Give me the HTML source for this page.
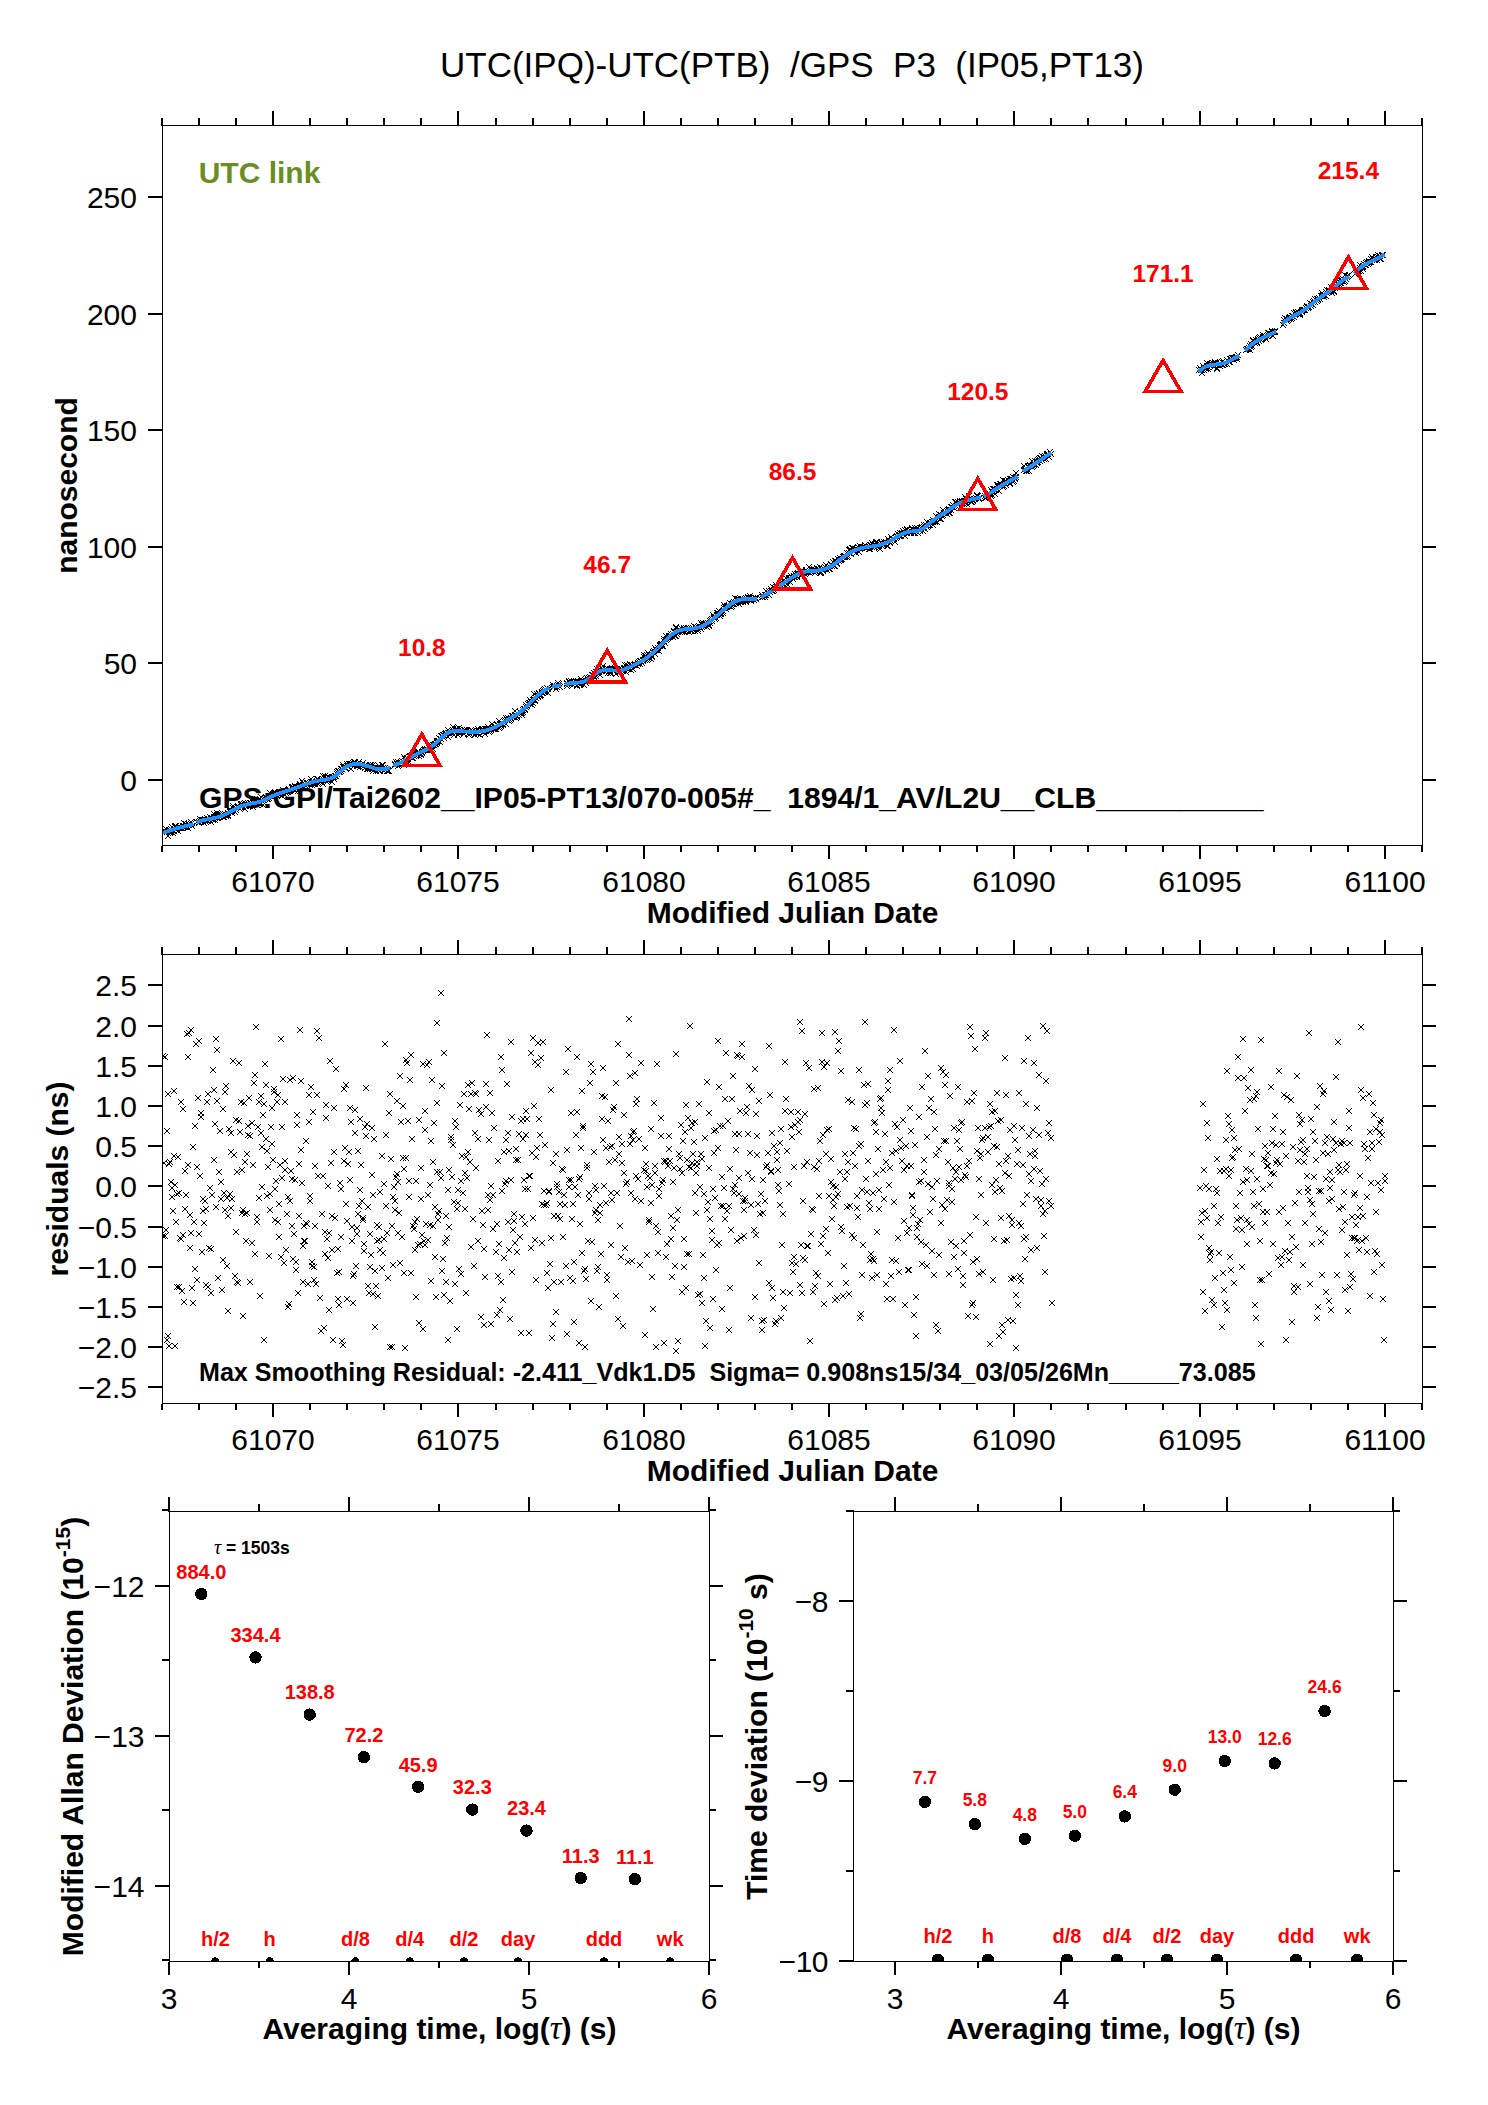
<!DOCTYPE html>
<html lang="en"><head><meta charset="utf-8"><title>UTC(IPQ)-UTC(PTB) /GPS P3 (IP05,PT13)</title>
<style>html,body{margin:0;padding:0;background:#fff;width:1488px;height:2105px;overflow:hidden}svg{display:block}text{font-family:"Liberation Sans", "DejaVu Sans", sans-serif}</style></head>
<body><svg width="1488" height="2105" viewBox="0 0 1488 2105">
<rect width="1488" height="2105" fill="#fff"/>
<defs><path id="x" d="M0 0h1v1h1v1h1v1h1v1h1v1h1v1h-1v-1h-1v-1h-1v-1h-1v-1h-1v-1h-1zM6 0v1h-1v1h-1v1h-1v1h-1v1h-1v1h-1v-1h1v-1h1v-1h1v-1h1v-1h1v-1z"/></defs>
<text x="792" y="77.3" font-size="35" text-anchor="middle" fill="#000">UTC(IPQ)-UTC(PTB)&#160; /GPS&#160; P3&#160; (IP05,PT13)</text>
<clipPath id="k125"><rect x="162.5" y="125.5" width="1260" height="720"/></clipPath><g fill="#000" shape-rendering="crispEdges" clip-path="url(#k125)"><use href="#x" x="161" y="827"/><use href="#x" x="162" y="828"/><use href="#x" x="162" y="829"/><use href="#x" x="163" y="826"/><use href="#x" x="164" y="829"/><use href="#x" x="165" y="833"/><use href="#x" x="164" y="827"/><use href="#x" x="166" y="827"/><use href="#x" x="166" y="829"/><use href="#x" x="167" y="829"/><use href="#x" x="167" y="830"/><use href="#x" x="168" y="829"/><use href="#x" x="169" y="827"/><use href="#x" x="169" y="824"/><use href="#x" x="170" y="830"/><use href="#x" x="171" y="828"/><use href="#x" x="172" y="824"/><use href="#x" x="172" y="823"/><use href="#x" x="173" y="827"/><use href="#x" x="173" y="823"/><use href="#x" x="174" y="826"/><use href="#x" x="175" y="828"/><use href="#x" x="175" y="825"/><use href="#x" x="176" y="825"/><use href="#x" x="177" y="825"/><use href="#x" x="178" y="825"/><use href="#x" x="179" y="825"/><use href="#x" x="180" y="824"/><use href="#x" x="180" y="823"/><use href="#x" x="181" y="823"/><use href="#x" x="181" y="820"/><use href="#x" x="182" y="824"/><use href="#x" x="183" y="824"/><use href="#x" x="183" y="821"/><use href="#x" x="184" y="823"/><use href="#x" x="185" y="821"/><use href="#x" x="185" y="825"/><use href="#x" x="186" y="821"/><use href="#x" x="186" y="822"/><use href="#x" x="188" y="819"/><use href="#x" x="188" y="821"/><use href="#x" x="189" y="820"/><use href="#x" x="189" y="823"/><use href="#x" x="194" y="819"/><use href="#x" x="196" y="820"/><use href="#x" x="196" y="819"/><use href="#x" x="197" y="818"/><use href="#x" x="197" y="816"/><use href="#x" x="198" y="817"/><use href="#x" x="199" y="817"/><use href="#x" x="200" y="817"/><use href="#x" x="200" y="818"/><use href="#x" x="201" y="820"/><use href="#x" x="202" y="817"/><use href="#x" x="203" y="817"/><use href="#x" x="203" y="819"/><use href="#x" x="204" y="815"/><use href="#x" x="205" y="818"/><use href="#x" x="205" y="816"/><use href="#x" x="206" y="816"/><use href="#x" x="207" y="814"/><use href="#x" x="208" y="815"/><use href="#x" x="208" y="819"/><use href="#x" x="209" y="815"/><use href="#x" x="210" y="816"/><use href="#x" x="210" y="817"/><use href="#x" x="211" y="814"/><use href="#x" x="211" y="811"/><use href="#x" x="212" y="817"/><use href="#x" x="212" y="815"/><use href="#x" x="214" y="812"/><use href="#x" x="214" y="815"/><use href="#x" x="214" y="810"/><use href="#x" x="215" y="815"/><use href="#x" x="216" y="812"/><use href="#x" x="217" y="814"/><use href="#x" x="217" y="811"/><use href="#x" x="218" y="812"/><use href="#x" x="218" y="813"/><use href="#x" x="219" y="813"/><use href="#x" x="220" y="811"/><use href="#x" x="220" y="814"/><use href="#x" x="221" y="812"/><use href="#x" x="221" y="814"/><use href="#x" x="223" y="812"/><use href="#x" x="223" y="813"/><use href="#x" x="225" y="812"/><use href="#x" x="225" y="813"/><use href="#x" x="225" y="810"/><use href="#x" x="226" y="807"/><use href="#x" x="227" y="809"/><use href="#x" x="227" y="807"/><use href="#x" x="228" y="809"/><use href="#x" x="229" y="808"/><use href="#x" x="229" y="810"/><use href="#x" x="230" y="805"/><use href="#x" x="230" y="803"/><use href="#x" x="231" y="808"/><use href="#x" x="232" y="806"/><use href="#x" x="232" y="809"/><use href="#x" x="233" y="807"/><use href="#x" x="234" y="804"/><use href="#x" x="235" y="803"/><use href="#x" x="235" y="804"/><use href="#x" x="237" y="806"/><use href="#x" x="238" y="804"/><use href="#x" x="238" y="802"/><use href="#x" x="238" y="801"/><use href="#x" x="239" y="801"/><use href="#x" x="241" y="801"/><use href="#x" x="241" y="805"/><use href="#x" x="242" y="806"/><use href="#x" x="242" y="800"/><use href="#x" x="243" y="801"/><use href="#x" x="243" y="803"/><use href="#x" x="245" y="803"/><use href="#x" x="245" y="800"/><use href="#x" x="246" y="801"/><use href="#x" x="247" y="803"/><use href="#x" x="248" y="802"/><use href="#x" x="248" y="800"/><use href="#x" x="249" y="798"/><use href="#x" x="249" y="796"/><use href="#x" x="250" y="804"/><use href="#x" x="251" y="800"/><use href="#x" x="252" y="799"/><use href="#x" x="252" y="798"/><use href="#x" x="253" y="799"/><use href="#x" x="253" y="800"/><use href="#x" x="254" y="799"/><use href="#x" x="254" y="802"/><use href="#x" x="255" y="798"/><use href="#x" x="256" y="801"/><use href="#x" x="257" y="800"/><use href="#x" x="257" y="801"/><use href="#x" x="257" y="796"/><use href="#x" x="258" y="794"/><use href="#x" x="260" y="802"/><use href="#x" x="260" y="799"/><use href="#x" x="260" y="796"/><use href="#x" x="261" y="797"/><use href="#x" x="262" y="796"/><use href="#x" x="263" y="794"/><use href="#x" x="263" y="795"/><use href="#x" x="264" y="796"/><use href="#x" x="265" y="796"/><use href="#x" x="266" y="795"/><use href="#x" x="266" y="793"/><use href="#x" x="267" y="793"/><use href="#x" x="267" y="790"/><use href="#x" x="268" y="791"/><use href="#x" x="269" y="792"/><use href="#x" x="269" y="794"/><use href="#x" x="270" y="791"/><use href="#x" x="271" y="790"/><use href="#x" x="271" y="793"/><use href="#x" x="272" y="789"/><use href="#x" x="272" y="793"/><use href="#x" x="274" y="792"/><use href="#x" x="274" y="793"/><use href="#x" x="275" y="790"/><use href="#x" x="275" y="791"/><use href="#x" x="276" y="789"/><use href="#x" x="277" y="791"/><use href="#x" x="277" y="789"/><use href="#x" x="278" y="791"/><use href="#x" x="279" y="793"/><use href="#x" x="280" y="787"/><use href="#x" x="281" y="788"/><use href="#x" x="281" y="791"/><use href="#x" x="282" y="792"/><use href="#x" x="283" y="790"/><use href="#x" x="284" y="789"/><use href="#x" x="285" y="789"/><use href="#x" x="285" y="787"/><use href="#x" x="286" y="788"/><use href="#x" x="286" y="786"/><use href="#x" x="286" y="787"/><use href="#x" x="287" y="788"/><use href="#x" x="289" y="785"/><use href="#x" x="289" y="784"/><use href="#x" x="290" y="784"/><use href="#x" x="291" y="786"/><use href="#x" x="292" y="784"/><use href="#x" x="292" y="783"/><use href="#x" x="292" y="788"/><use href="#x" x="293" y="786"/><use href="#x" x="294" y="784"/><use href="#x" x="294" y="785"/><use href="#x" x="295" y="788"/><use href="#x" x="296" y="783"/><use href="#x" x="296" y="787"/><use href="#x" x="297" y="782"/><use href="#x" x="297" y="781"/><use href="#x" x="298" y="784"/><use href="#x" x="299" y="778"/><use href="#x" x="300" y="780"/><use href="#x" x="300" y="784"/><use href="#x" x="301" y="781"/><use href="#x" x="302" y="782"/><use href="#x" x="303" y="779"/><use href="#x" x="303" y="783"/><use href="#x" x="304" y="781"/><use href="#x" x="305" y="781"/><use href="#x" x="305" y="780"/><use href="#x" x="306" y="781"/><use href="#x" x="307" y="782"/><use href="#x" x="308" y="776"/><use href="#x" x="308" y="779"/><use href="#x" x="309" y="782"/><use href="#x" x="309" y="779"/><use href="#x" x="310" y="781"/><use href="#x" x="311" y="779"/><use href="#x" x="311" y="781"/><use href="#x" x="312" y="780"/><use href="#x" x="312" y="781"/><use href="#x" x="314" y="776"/><use href="#x" x="314" y="778"/><use href="#x" x="314" y="780"/><use href="#x" x="315" y="776"/><use href="#x" x="316" y="780"/><use href="#x" x="316" y="778"/><use href="#x" x="317" y="779"/><use href="#x" x="318" y="777"/><use href="#x" x="319" y="780"/><use href="#x" x="320" y="781"/><use href="#x" x="320" y="773"/><use href="#x" x="321" y="777"/><use href="#x" x="322" y="773"/><use href="#x" x="322" y="776"/><use href="#x" x="323" y="776"/><use href="#x" x="324" y="777"/><use href="#x" x="324" y="779"/><use href="#x" x="325" y="777"/><use href="#x" x="325" y="774"/><use href="#x" x="326" y="774"/><use href="#x" x="327" y="776"/><use href="#x" x="328" y="778"/><use href="#x" x="328" y="775"/><use href="#x" x="329" y="779"/><use href="#x" x="329" y="774"/><use href="#x" x="330" y="774"/><use href="#x" x="331" y="776"/><use href="#x" x="331" y="774"/><use href="#x" x="332" y="773"/><use href="#x" x="333" y="773"/><use href="#x" x="334" y="771"/><use href="#x" x="334" y="769"/><use href="#x" x="335" y="768"/><use href="#x" x="336" y="769"/><use href="#x" x="336" y="768"/><use href="#x" x="337" y="769"/><use href="#x" x="338" y="768"/><use href="#x" x="338" y="766"/><use href="#x" x="339" y="766"/><use href="#x" x="340" y="762"/><use href="#x" x="340" y="764"/><use href="#x" x="341" y="764"/><use href="#x" x="342" y="765"/><use href="#x" x="342" y="764"/><use href="#x" x="343" y="765"/><use href="#x" x="344" y="761"/><use href="#x" x="344" y="763"/><use href="#x" x="345" y="763"/><use href="#x" x="346" y="761"/><use href="#x" x="347" y="761"/><use href="#x" x="348" y="766"/><use href="#x" x="348" y="761"/><use href="#x" x="349" y="762"/><use href="#x" x="350" y="760"/><use href="#x" x="351" y="759"/><use href="#x" x="352" y="759"/><use href="#x" x="352" y="760"/><use href="#x" x="353" y="761"/><use href="#x" x="354" y="761"/><use href="#x" x="354" y="763"/><use href="#x" x="355" y="763"/><use href="#x" x="355" y="761"/><use href="#x" x="356" y="759"/><use href="#x" x="357" y="764"/><use href="#x" x="357" y="762"/><use href="#x" x="359" y="762"/><use href="#x" x="359" y="763"/><use href="#x" x="360" y="760"/><use href="#x" x="360" y="764"/><use href="#x" x="361" y="763"/><use href="#x" x="362" y="765"/><use href="#x" x="362" y="762"/><use href="#x" x="363" y="762"/><use href="#x" x="364" y="766"/><use href="#x" x="364" y="763"/><use href="#x" x="365" y="766"/><use href="#x" x="365" y="765"/><use href="#x" x="366" y="763"/><use href="#x" x="367" y="766"/><use href="#x" x="367" y="762"/><use href="#x" x="368" y="762"/><use href="#x" x="368" y="764"/><use href="#x" x="369" y="765"/><use href="#x" x="370" y="768"/><use href="#x" x="370" y="762"/><use href="#x" x="371" y="765"/><use href="#x" x="372" y="765"/><use href="#x" x="373" y="765"/><use href="#x" x="373" y="768"/><use href="#x" x="374" y="766"/><use href="#x" x="375" y="765"/><use href="#x" x="375" y="767"/><use href="#x" x="376" y="763"/><use href="#x" x="376" y="767"/><use href="#x" x="377" y="768"/><use href="#x" x="377" y="766"/><use href="#x" x="379" y="766"/><use href="#x" x="379" y="762"/><use href="#x" x="380" y="765"/><use href="#x" x="380" y="762"/><use href="#x" x="381" y="768"/><use href="#x" x="382" y="765"/><use href="#x" x="383" y="766"/><use href="#x" x="384" y="766"/><use href="#x" x="384" y="768"/><use href="#x" x="385" y="768"/><use href="#x" x="385" y="767"/><use href="#x" x="386" y="768"/><use href="#x" x="392" y="761"/><use href="#x" x="393" y="759"/><use href="#x" x="392" y="762"/><use href="#x" x="394" y="760"/><use href="#x" x="394" y="761"/><use href="#x" x="395" y="763"/><use href="#x" x="395" y="759"/><use href="#x" x="396" y="761"/><use href="#x" x="397" y="761"/><use href="#x" x="398" y="759"/><use href="#x" x="398" y="760"/><use href="#x" x="399" y="758"/><use href="#x" x="400" y="761"/><use href="#x" x="401" y="754"/><use href="#x" x="401" y="762"/><use href="#x" x="402" y="756"/><use href="#x" x="403" y="758"/><use href="#x" x="404" y="757"/><use href="#x" x="404" y="755"/><use href="#x" x="405" y="756"/><use href="#x" x="406" y="759"/><use href="#x" x="407" y="754"/><use href="#x" x="407" y="753"/><use href="#x" x="408" y="754"/><use href="#x" x="408" y="753"/><use href="#x" x="409" y="755"/><use href="#x" x="410" y="755"/><use href="#x" x="410" y="750"/><use href="#x" x="411" y="753"/><use href="#x" x="411" y="749"/><use href="#x" x="412" y="750"/><use href="#x" x="413" y="753"/><use href="#x" x="414" y="750"/><use href="#x" x="414" y="752"/><use href="#x" x="415" y="752"/><use href="#x" x="415" y="749"/><use href="#x" x="416" y="753"/><use href="#x" x="416" y="751"/><use href="#x" x="418" y="751"/><use href="#x" x="418" y="752"/><use href="#x" x="419" y="750"/><use href="#x" x="419" y="749"/><use href="#x" x="420" y="748"/><use href="#x" x="421" y="747"/><use href="#x" x="422" y="747"/><use href="#x" x="422" y="746"/><use href="#x" x="423" y="747"/><use href="#x" x="424" y="746"/><use href="#x" x="424" y="747"/><use href="#x" x="425" y="747"/><use href="#x" x="426" y="745"/><use href="#x" x="426" y="747"/><use href="#x" x="427" y="742"/><use href="#x" x="427" y="747"/><use href="#x" x="428" y="744"/><use href="#x" x="429" y="743"/><use href="#x" x="430" y="746"/><use href="#x" x="430" y="742"/><use href="#x" x="431" y="742"/><use href="#x" x="432" y="741"/><use href="#x" x="433" y="741"/><use href="#x" x="434" y="740"/><use href="#x" x="434" y="738"/><use href="#x" x="434" y="739"/><use href="#x" x="435" y="738"/><use href="#x" x="436" y="735"/><use href="#x" x="436" y="738"/><use href="#x" x="437" y="739"/><use href="#x" x="438" y="733"/><use href="#x" x="438" y="736"/><use href="#x" x="439" y="733"/><use href="#x" x="440" y="732"/><use href="#x" x="441" y="735"/><use href="#x" x="441" y="732"/><use href="#x" x="442" y="731"/><use href="#x" x="443" y="730"/><use href="#x" x="443" y="731"/><use href="#x" x="445" y="734"/><use href="#x" x="445" y="730"/><use href="#x" x="445" y="727"/><use href="#x" x="446" y="730"/><use href="#x" x="447" y="729"/><use href="#x" x="448" y="730"/><use href="#x" x="449" y="730"/><use href="#x" x="450" y="724"/><use href="#x" x="451" y="729"/><use href="#x" x="451" y="732"/><use href="#x" x="451" y="725"/><use href="#x" x="452" y="729"/><use href="#x" x="453" y="728"/><use href="#x" x="453" y="726"/><use href="#x" x="454" y="726"/><use href="#x" x="455" y="732"/><use href="#x" x="456" y="725"/><use href="#x" x="456" y="730"/><use href="#x" x="456" y="729"/><use href="#x" x="457" y="729"/><use href="#x" x="458" y="729"/><use href="#x" x="459" y="729"/><use href="#x" x="460" y="728"/><use href="#x" x="461" y="727"/><use href="#x" x="461" y="731"/><use href="#x" x="462" y="728"/><use href="#x" x="462" y="727"/><use href="#x" x="463" y="728"/><use href="#x" x="463" y="729"/><use href="#x" x="464" y="727"/><use href="#x" x="465" y="731"/><use href="#x" x="466" y="732"/><use href="#x" x="467" y="731"/><use href="#x" x="467" y="728"/><use href="#x" x="468" y="729"/><use href="#x" x="468" y="727"/><use href="#x" x="469" y="728"/><use href="#x" x="469" y="730"/><use href="#x" x="470" y="728"/><use href="#x" x="471" y="729"/><use href="#x" x="472" y="728"/><use href="#x" x="472" y="732"/><use href="#x" x="473" y="730"/><use href="#x" x="474" y="730"/><use href="#x" x="475" y="731"/><use href="#x" x="475" y="726"/><use href="#x" x="476" y="728"/><use href="#x" x="477" y="732"/><use href="#x" x="477" y="728"/><use href="#x" x="478" y="727"/><use href="#x" x="479" y="726"/><use href="#x" x="479" y="727"/><use href="#x" x="480" y="726"/><use href="#x" x="481" y="729"/><use href="#x" x="481" y="728"/><use href="#x" x="482" y="726"/><use href="#x" x="482" y="731"/><use href="#x" x="483" y="726"/><use href="#x" x="483" y="728"/><use href="#x" x="484" y="726"/><use href="#x" x="485" y="724"/><use href="#x" x="486" y="729"/><use href="#x" x="486" y="726"/><use href="#x" x="487" y="728"/><use href="#x" x="488" y="727"/><use href="#x" x="488" y="726"/><use href="#x" x="489" y="721"/><use href="#x" x="490" y="726"/><use href="#x" x="490" y="725"/><use href="#x" x="491" y="724"/><use href="#x" x="491" y="726"/><use href="#x" x="492" y="726"/><use href="#x" x="493" y="726"/><use href="#x" x="493" y="724"/><use href="#x" x="494" y="722"/><use href="#x" x="495" y="722"/><use href="#x" x="496" y="725"/><use href="#x" x="496" y="718"/><use href="#x" x="497" y="721"/><use href="#x" x="497" y="724"/><use href="#x" x="498" y="722"/><use href="#x" x="498" y="723"/><use href="#x" x="499" y="721"/><use href="#x" x="500" y="721"/><use href="#x" x="500" y="722"/><use href="#x" x="501" y="718"/><use href="#x" x="502" y="717"/><use href="#x" x="503" y="721"/><use href="#x" x="503" y="715"/><use href="#x" x="504" y="717"/><use href="#x" x="504" y="716"/><use href="#x" x="505" y="715"/><use href="#x" x="506" y="716"/><use href="#x" x="506" y="718"/><use href="#x" x="507" y="717"/><use href="#x" x="508" y="715"/><use href="#x" x="508" y="716"/><use href="#x" x="509" y="713"/><use href="#x" x="510" y="713"/><use href="#x" x="510" y="714"/><use href="#x" x="511" y="714"/><use href="#x" x="512" y="712"/><use href="#x" x="512" y="708"/><use href="#x" x="513" y="715"/><use href="#x" x="513" y="712"/><use href="#x" x="514" y="713"/><use href="#x" x="514" y="714"/><use href="#x" x="516" y="712"/><use href="#x" x="517" y="709"/><use href="#x" x="518" y="710"/><use href="#x" x="519" y="712"/><use href="#x" x="519" y="710"/><use href="#x" x="520" y="707"/><use href="#x" x="520" y="709"/><use href="#x" x="521" y="706"/><use href="#x" x="522" y="707"/><use href="#x" x="522" y="706"/><use href="#x" x="523" y="704"/><use href="#x" x="523" y="702"/><use href="#x" x="524" y="703"/><use href="#x" x="525" y="701"/><use href="#x" x="526" y="700"/><use href="#x" x="527" y="701"/><use href="#x" x="527" y="700"/><use href="#x" x="527" y="697"/><use href="#x" x="528" y="699"/><use href="#x" x="529" y="702"/><use href="#x" x="530" y="700"/><use href="#x" x="530" y="697"/><use href="#x" x="531" y="697"/><use href="#x" x="531" y="691"/><use href="#x" x="532" y="697"/><use href="#x" x="532" y="698"/><use href="#x" x="533" y="695"/><use href="#x" x="534" y="691"/><use href="#x" x="535" y="693"/><use href="#x" x="535" y="694"/><use href="#x" x="536" y="690"/><use href="#x" x="537" y="693"/><use href="#x" x="537" y="692"/><use href="#x" x="538" y="692"/><use href="#x" x="539" y="690"/><use href="#x" x="539" y="689"/><use href="#x" x="540" y="688"/><use href="#x" x="542" y="689"/><use href="#x" x="541" y="687"/><use href="#x" x="542" y="686"/><use href="#x" x="543" y="687"/><use href="#x" x="544" y="685"/><use href="#x" x="545" y="686"/><use href="#x" x="545" y="690"/><use href="#x" x="550" y="684"/><use href="#x" x="550" y="682"/><use href="#x" x="551" y="684"/><use href="#x" x="552" y="683"/><use href="#x" x="553" y="686"/><use href="#x" x="554" y="684"/><use href="#x" x="555" y="680"/><use href="#x" x="555" y="682"/><use href="#x" x="556" y="681"/><use href="#x" x="556" y="683"/><use href="#x" x="557" y="684"/><use href="#x" x="564" y="681"/><use href="#x" x="564" y="680"/><use href="#x" x="564" y="683"/><use href="#x" x="566" y="678"/><use href="#x" x="566" y="679"/><use href="#x" x="567" y="681"/><use href="#x" x="567" y="680"/><use href="#x" x="568" y="678"/><use href="#x" x="569" y="681"/><use href="#x" x="570" y="679"/><use href="#x" x="570" y="682"/><use href="#x" x="571" y="680"/><use href="#x" x="572" y="681"/><use href="#x" x="573" y="679"/><use href="#x" x="573" y="678"/><use href="#x" x="574" y="682"/><use href="#x" x="574" y="683"/><use href="#x" x="575" y="678"/><use href="#x" x="576" y="679"/><use href="#x" x="576" y="680"/><use href="#x" x="577" y="682"/><use href="#x" x="578" y="676"/><use href="#x" x="578" y="681"/><use href="#x" x="579" y="678"/><use href="#x" x="579" y="679"/><use href="#x" x="580" y="678"/><use href="#x" x="581" y="682"/><use href="#x" x="582" y="677"/><use href="#x" x="582" y="679"/><use href="#x" x="583" y="680"/><use href="#x" x="584" y="675"/><use href="#x" x="585" y="677"/><use href="#x" x="585" y="678"/><use href="#x" x="586" y="675"/><use href="#x" x="587" y="674"/><use href="#x" x="588" y="678"/><use href="#x" x="589" y="672"/><use href="#x" x="590" y="672"/><use href="#x" x="591" y="673"/><use href="#x" x="591" y="670"/><use href="#x" x="592" y="675"/><use href="#x" x="593" y="671"/><use href="#x" x="593" y="673"/><use href="#x" x="593" y="669"/><use href="#x" x="594" y="666"/><use href="#x" x="595" y="669"/><use href="#x" x="596" y="667"/><use href="#x" x="596" y="669"/><use href="#x" x="597" y="672"/><use href="#x" x="598" y="665"/><use href="#x" x="598" y="668"/><use href="#x" x="599" y="666"/><use href="#x" x="599" y="668"/><use href="#x" x="600" y="666"/><use href="#x" x="600" y="663"/><use href="#x" x="601" y="668"/><use href="#x" x="603" y="667"/><use href="#x" x="604" y="667"/><use href="#x" x="604" y="665"/><use href="#x" x="605" y="670"/><use href="#x" x="605" y="666"/><use href="#x" x="606" y="669"/><use href="#x" x="607" y="666"/><use href="#x" x="607" y="668"/><use href="#x" x="607" y="670"/><use href="#x" x="608" y="670"/><use href="#x" x="609" y="666"/><use href="#x" x="610" y="668"/><use href="#x" x="611" y="666"/><use href="#x" x="611" y="668"/><use href="#x" x="612" y="667"/><use href="#x" x="612" y="665"/><use href="#x" x="613" y="671"/><use href="#x" x="614" y="666"/><use href="#x" x="615" y="668"/><use href="#x" x="615" y="669"/><use href="#x" x="617" y="669"/><use href="#x" x="617" y="665"/><use href="#x" x="617" y="668"/><use href="#x" x="619" y="668"/><use href="#x" x="619" y="666"/><use href="#x" x="620" y="668"/><use href="#x" x="621" y="665"/><use href="#x" x="622" y="662"/><use href="#x" x="622" y="665"/><use href="#x" x="623" y="669"/><use href="#x" x="624" y="665"/><use href="#x" x="624" y="666"/><use href="#x" x="624" y="662"/><use href="#x" x="625" y="663"/><use href="#x" x="626" y="666"/><use href="#x" x="627" y="661"/><use href="#x" x="628" y="662"/><use href="#x" x="628" y="667"/><use href="#x" x="629" y="662"/><use href="#x" x="630" y="666"/><use href="#x" x="631" y="662"/><use href="#x" x="632" y="662"/><use href="#x" x="632" y="661"/><use href="#x" x="633" y="662"/><use href="#x" x="634" y="663"/><use href="#x" x="635" y="660"/><use href="#x" x="635" y="661"/><use href="#x" x="636" y="659"/><use href="#x" x="637" y="661"/><use href="#x" x="637" y="658"/><use href="#x" x="638" y="659"/><use href="#x" x="638" y="658"/><use href="#x" x="639" y="660"/><use href="#x" x="640" y="658"/><use href="#x" x="640" y="657"/><use href="#x" x="641" y="654"/><use href="#x" x="641" y="652"/><use href="#x" x="642" y="657"/><use href="#x" x="643" y="653"/><use href="#x" x="644" y="652"/><use href="#x" x="644" y="657"/><use href="#x" x="645" y="656"/><use href="#x" x="645" y="650"/><use href="#x" x="646" y="655"/><use href="#x" x="646" y="654"/><use href="#x" x="647" y="652"/><use href="#x" x="648" y="656"/><use href="#x" x="649" y="654"/><use href="#x" x="649" y="653"/><use href="#x" x="650" y="649"/><use href="#x" x="651" y="648"/><use href="#x" x="652" y="651"/><use href="#x" x="652" y="645"/><use href="#x" x="653" y="647"/><use href="#x" x="653" y="646"/><use href="#x" x="654" y="647"/><use href="#x" x="655" y="645"/><use href="#x" x="656" y="648"/><use href="#x" x="657" y="642"/><use href="#x" x="657" y="643"/><use href="#x" x="658" y="642"/><use href="#x" x="658" y="641"/><use href="#x" x="659" y="641"/><use href="#x" x="659" y="643"/><use href="#x" x="660" y="643"/><use href="#x" x="661" y="638"/><use href="#x" x="661" y="636"/><use href="#x" x="662" y="640"/><use href="#x" x="663" y="633"/><use href="#x" x="663" y="637"/><use href="#x" x="664" y="636"/><use href="#x" x="665" y="635"/><use href="#x" x="666" y="633"/><use href="#x" x="666" y="634"/><use href="#x" x="667" y="634"/><use href="#x" x="667" y="633"/><use href="#x" x="668" y="633"/><use href="#x" x="668" y="631"/><use href="#x" x="670" y="634"/><use href="#x" x="670" y="631"/><use href="#x" x="671" y="629"/><use href="#x" x="671" y="628"/><use href="#x" x="672" y="633"/><use href="#x" x="673" y="633"/><use href="#x" x="673" y="625"/><use href="#x" x="673" y="624"/><use href="#x" x="674" y="631"/><use href="#x" x="675" y="629"/><use href="#x" x="676" y="628"/><use href="#x" x="676" y="626"/><use href="#x" x="677" y="627"/><use href="#x" x="678" y="625"/><use href="#x" x="678" y="628"/><use href="#x" x="679" y="629"/><use href="#x" x="679" y="628"/><use href="#x" x="680" y="628"/><use href="#x" x="681" y="626"/><use href="#x" x="681" y="625"/><use href="#x" x="682" y="629"/><use href="#x" x="683" y="625"/><use href="#x" x="684" y="627"/><use href="#x" x="685" y="627"/><use href="#x" x="684" y="626"/><use href="#x" x="685" y="625"/><use href="#x" x="686" y="626"/><use href="#x" x="686" y="629"/><use href="#x" x="687" y="627"/><use href="#x" x="688" y="628"/><use href="#x" x="689" y="628"/><use href="#x" x="690" y="627"/><use href="#x" x="691" y="626"/><use href="#x" x="691" y="623"/><use href="#x" x="692" y="624"/><use href="#x" x="692" y="628"/><use href="#x" x="693" y="624"/><use href="#x" x="694" y="625"/><use href="#x" x="695" y="628"/><use href="#x" x="695" y="626"/><use href="#x" x="696" y="623"/><use href="#x" x="697" y="624"/><use href="#x" x="697" y="625"/><use href="#x" x="698" y="626"/><use href="#x" x="698" y="620"/><use href="#x" x="699" y="624"/><use href="#x" x="699" y="622"/><use href="#x" x="700" y="620"/><use href="#x" x="701" y="623"/><use href="#x" x="701" y="622"/><use href="#x" x="702" y="621"/><use href="#x" x="703" y="621"/><use href="#x" x="703" y="620"/><use href="#x" x="704" y="624"/><use href="#x" x="705" y="620"/><use href="#x" x="706" y="622"/><use href="#x" x="706" y="623"/><use href="#x" x="707" y="618"/><use href="#x" x="707" y="620"/><use href="#x" x="708" y="617"/><use href="#x" x="709" y="616"/><use href="#x" x="709" y="618"/><use href="#x" x="710" y="612"/><use href="#x" x="711" y="614"/><use href="#x" x="711" y="615"/><use href="#x" x="712" y="616"/><use href="#x" x="712" y="614"/><use href="#x" x="713" y="615"/><use href="#x" x="714" y="610"/><use href="#x" x="714" y="612"/><use href="#x" x="715" y="610"/><use href="#x" x="716" y="608"/><use href="#x" x="717" y="613"/><use href="#x" x="717" y="611"/><use href="#x" x="718" y="610"/><use href="#x" x="718" y="611"/><use href="#x" x="719" y="609"/><use href="#x" x="720" y="608"/><use href="#x" x="720" y="610"/><use href="#x" x="721" y="605"/><use href="#x" x="721" y="602"/><use href="#x" x="722" y="604"/><use href="#x" x="723" y="606"/><use href="#x" x="724" y="603"/><use href="#x" x="724" y="604"/><use href="#x" x="725" y="603"/><use href="#x" x="726" y="603"/><use href="#x" x="727" y="600"/><use href="#x" x="728" y="604"/><use href="#x" x="729" y="601"/><use href="#x" x="729" y="603"/><use href="#x" x="730" y="601"/><use href="#x" x="730" y="600"/><use href="#x" x="731" y="599"/><use href="#x" x="732" y="595"/><use href="#x" x="733" y="600"/><use href="#x" x="733" y="596"/><use href="#x" x="734" y="596"/><use href="#x" x="735" y="596"/><use href="#x" x="736" y="601"/><use href="#x" x="737" y="598"/><use href="#x" x="737" y="599"/><use href="#x" x="738" y="598"/><use href="#x" x="739" y="598"/><use href="#x" x="740" y="598"/><use href="#x" x="740" y="597"/><use href="#x" x="740" y="599"/><use href="#x" x="742" y="597"/><use href="#x" x="742" y="596"/><use href="#x" x="743" y="595"/><use href="#x" x="743" y="599"/><use href="#x" x="744" y="597"/><use href="#x" x="745" y="594"/><use href="#x" x="745" y="595"/><use href="#x" x="746" y="595"/><use href="#x" x="747" y="593"/><use href="#x" x="747" y="595"/><use href="#x" x="748" y="598"/><use href="#x" x="748" y="597"/><use href="#x" x="749" y="596"/><use href="#x" x="750" y="595"/><use href="#x" x="750" y="596"/><use href="#x" x="751" y="597"/><use href="#x" x="752" y="595"/><use href="#x" x="753" y="596"/><use href="#x" x="753" y="595"/><use href="#x" x="759" y="592"/><use href="#x" x="759" y="594"/><use href="#x" x="760" y="594"/><use href="#x" x="762" y="592"/><use href="#x" x="762" y="594"/><use href="#x" x="763" y="588"/><use href="#x" x="763" y="592"/><use href="#x" x="764" y="589"/><use href="#x" x="765" y="591"/><use href="#x" x="766" y="588"/><use href="#x" x="766" y="592"/><use href="#x" x="767" y="589"/><use href="#x" x="768" y="586"/><use href="#x" x="769" y="588"/><use href="#x" x="770" y="584"/><use href="#x" x="770" y="588"/><use href="#x" x="771" y="585"/><use href="#x" x="771" y="587"/><use href="#x" x="772" y="585"/><use href="#x" x="773" y="584"/><use href="#x" x="774" y="584"/><use href="#x" x="773" y="582"/><use href="#x" x="775" y="584"/><use href="#x" x="775" y="585"/><use href="#x" x="776" y="584"/><use href="#x" x="777" y="581"/><use href="#x" x="778" y="580"/><use href="#x" x="779" y="579"/><use href="#x" x="779" y="580"/><use href="#x" x="780" y="582"/><use href="#x" x="781" y="582"/><use href="#x" x="781" y="579"/><use href="#x" x="782" y="579"/><use href="#x" x="783" y="579"/><use href="#x" x="783" y="575"/><use href="#x" x="784" y="581"/><use href="#x" x="785" y="582"/><use href="#x" x="786" y="576"/><use href="#x" x="786" y="575"/><use href="#x" x="787" y="579"/><use href="#x" x="787" y="575"/><use href="#x" x="788" y="573"/><use href="#x" x="789" y="574"/><use href="#x" x="789" y="575"/><use href="#x" x="790" y="576"/><use href="#x" x="791" y="573"/><use href="#x" x="791" y="574"/><use href="#x" x="792" y="571"/><use href="#x" x="792" y="574"/><use href="#x" x="794" y="574"/><use href="#x" x="794" y="573"/><use href="#x" x="794" y="571"/><use href="#x" x="795" y="571"/><use href="#x" x="795" y="570"/><use href="#x" x="797" y="571"/><use href="#x" x="798" y="572"/><use href="#x" x="799" y="568"/><use href="#x" x="799" y="572"/><use href="#x" x="799" y="567"/><use href="#x" x="800" y="570"/><use href="#x" x="801" y="570"/><use href="#x" x="802" y="571"/><use href="#x" x="803" y="570"/><use href="#x" x="803" y="567"/><use href="#x" x="804" y="569"/><use href="#x" x="805" y="569"/><use href="#x" x="806" y="569"/><use href="#x" x="806" y="564"/><use href="#x" x="807" y="568"/><use href="#x" x="808" y="567"/><use href="#x" x="808" y="569"/><use href="#x" x="809" y="566"/><use href="#x" x="809" y="568"/><use href="#x" x="811" y="567"/><use href="#x" x="811" y="566"/><use href="#x" x="812" y="570"/><use href="#x" x="813" y="568"/><use href="#x" x="813" y="569"/><use href="#x" x="814" y="565"/><use href="#x" x="815" y="566"/><use href="#x" x="816" y="566"/><use href="#x" x="817" y="570"/><use href="#x" x="817" y="564"/><use href="#x" x="818" y="569"/><use href="#x" x="818" y="570"/><use href="#x" x="819" y="566"/><use href="#x" x="820" y="568"/><use href="#x" x="820" y="567"/><use href="#x" x="821" y="566"/><use href="#x" x="822" y="564"/><use href="#x" x="823" y="565"/><use href="#x" x="823" y="562"/><use href="#x" x="824" y="567"/><use href="#x" x="825" y="564"/><use href="#x" x="826" y="565"/><use href="#x" x="826" y="566"/><use href="#x" x="827" y="566"/><use href="#x" x="828" y="561"/><use href="#x" x="829" y="563"/><use href="#x" x="830" y="559"/><use href="#x" x="831" y="563"/><use href="#x" x="832" y="563"/><use href="#x" x="832" y="558"/><use href="#x" x="833" y="560"/><use href="#x" x="833" y="558"/><use href="#x" x="834" y="561"/><use href="#x" x="834" y="560"/><use href="#x" x="835" y="556"/><use href="#x" x="836" y="558"/><use href="#x" x="837" y="557"/><use href="#x" x="837" y="555"/><use href="#x" x="838" y="556"/><use href="#x" x="838" y="557"/><use href="#x" x="839" y="556"/><use href="#x" x="840" y="554"/><use href="#x" x="841" y="553"/><use href="#x" x="841" y="554"/><use href="#x" x="842" y="554"/><use href="#x" x="842" y="553"/><use href="#x" x="844" y="554"/><use href="#x" x="844" y="550"/><use href="#x" x="845" y="553"/><use href="#x" x="846" y="550"/><use href="#x" x="846" y="547"/><use href="#x" x="847" y="546"/><use href="#x" x="847" y="547"/><use href="#x" x="848" y="551"/><use href="#x" x="849" y="545"/><use href="#x" x="850" y="545"/><use href="#x" x="850" y="548"/><use href="#x" x="851" y="549"/><use href="#x" x="852" y="546"/><use href="#x" x="852" y="547"/><use href="#x" x="853" y="550"/><use href="#x" x="854" y="546"/><use href="#x" x="854" y="547"/><use href="#x" x="855" y="544"/><use href="#x" x="856" y="549"/><use href="#x" x="857" y="546"/><use href="#x" x="857" y="543"/><use href="#x" x="858" y="545"/><use href="#x" x="859" y="544"/><use href="#x" x="860" y="544"/><use href="#x" x="861" y="544"/><use href="#x" x="862" y="542"/><use href="#x" x="862" y="544"/><use href="#x" x="862" y="545"/><use href="#x" x="864" y="544"/><use href="#x" x="864" y="545"/><use href="#x" x="866" y="546"/><use href="#x" x="866" y="543"/><use href="#x" x="867" y="544"/><use href="#x" x="867" y="546"/><use href="#x" x="868" y="543"/><use href="#x" x="868" y="542"/><use href="#x" x="869" y="540"/><use href="#x" x="870" y="542"/><use href="#x" x="871" y="543"/><use href="#x" x="871" y="544"/><use href="#x" x="872" y="541"/><use href="#x" x="873" y="539"/><use href="#x" x="873" y="540"/><use href="#x" x="874" y="544"/><use href="#x" x="874" y="539"/><use href="#x" x="875" y="542"/><use href="#x" x="876" y="543"/><use href="#x" x="876" y="545"/><use href="#x" x="877" y="546"/><use href="#x" x="878" y="540"/><use href="#x" x="878" y="542"/><use href="#x" x="879" y="540"/><use href="#x" x="880" y="541"/><use href="#x" x="880" y="542"/><use href="#x" x="881" y="539"/><use href="#x" x="881" y="541"/><use href="#x" x="883" y="539"/><use href="#x" x="883" y="542"/><use href="#x" x="884" y="543"/><use href="#x" x="885" y="543"/><use href="#x" x="885" y="536"/><use href="#x" x="886" y="538"/><use href="#x" x="886" y="539"/><use href="#x" x="887" y="540"/><use href="#x" x="888" y="538"/><use href="#x" x="888" y="534"/><use href="#x" x="889" y="536"/><use href="#x" x="890" y="537"/><use href="#x" x="892" y="539"/><use href="#x" x="891" y="536"/><use href="#x" x="893" y="535"/><use href="#x" x="894" y="533"/><use href="#x" x="894" y="534"/><use href="#x" x="895" y="531"/><use href="#x" x="896" y="533"/><use href="#x" x="897" y="532"/><use href="#x" x="897" y="533"/><use href="#x" x="897" y="530"/><use href="#x" x="898" y="533"/><use href="#x" x="899" y="531"/><use href="#x" x="899" y="530"/><use href="#x" x="900" y="528"/><use href="#x" x="901" y="530"/><use href="#x" x="902" y="533"/><use href="#x" x="902" y="527"/><use href="#x" x="903" y="528"/><use href="#x" x="904" y="527"/><use href="#x" x="904" y="530"/><use href="#x" x="904" y="526"/><use href="#x" x="906" y="528"/><use href="#x" x="906" y="529"/><use href="#x" x="907" y="529"/><use href="#x" x="908" y="528"/><use href="#x" x="908" y="530"/><use href="#x" x="909" y="525"/><use href="#x" x="910" y="527"/><use href="#x" x="911" y="530"/><use href="#x" x="911" y="529"/><use href="#x" x="912" y="530"/><use href="#x" x="912" y="525"/><use href="#x" x="913" y="527"/><use href="#x" x="913" y="528"/><use href="#x" x="914" y="525"/><use href="#x" x="915" y="530"/><use href="#x" x="916" y="526"/><use href="#x" x="917" y="528"/><use href="#x" x="917" y="527"/><use href="#x" x="918" y="525"/><use href="#x" x="919" y="524"/><use href="#x" x="920" y="525"/><use href="#x" x="920" y="528"/><use href="#x" x="921" y="522"/><use href="#x" x="921" y="524"/><use href="#x" x="922" y="526"/><use href="#x" x="923" y="522"/><use href="#x" x="924" y="519"/><use href="#x" x="924" y="524"/><use href="#x" x="925" y="523"/><use href="#x" x="926" y="521"/><use href="#x" x="926" y="522"/><use href="#x" x="927" y="520"/><use href="#x" x="927" y="522"/><use href="#x" x="928" y="520"/><use href="#x" x="930" y="522"/><use href="#x" x="930" y="517"/><use href="#x" x="930" y="519"/><use href="#x" x="931" y="518"/><use href="#x" x="932" y="519"/><use href="#x" x="932" y="518"/><use href="#x" x="933" y="513"/><use href="#x" x="934" y="519"/><use href="#x" x="934" y="514"/><use href="#x" x="935" y="515"/><use href="#x" x="936" y="514"/><use href="#x" x="936" y="511"/><use href="#x" x="937" y="516"/><use href="#x" x="938" y="512"/><use href="#x" x="938" y="516"/><use href="#x" x="939" y="513"/><use href="#x" x="940" y="512"/><use href="#x" x="940" y="507"/><use href="#x" x="941" y="510"/><use href="#x" x="942" y="510"/><use href="#x" x="944" y="511"/><use href="#x" x="944" y="508"/><use href="#x" x="945" y="507"/><use href="#x" x="946" y="510"/><use href="#x" x="946" y="506"/><use href="#x" x="946" y="507"/><use href="#x" x="947" y="510"/><use href="#x" x="948" y="507"/><use href="#x" x="948" y="504"/><use href="#x" x="950" y="502"/><use href="#x" x="949" y="504"/><use href="#x" x="951" y="505"/><use href="#x" x="951" y="503"/><use href="#x" x="952" y="499"/><use href="#x" x="953" y="503"/><use href="#x" x="953" y="499"/><use href="#x" x="954" y="501"/><use href="#x" x="955" y="499"/><use href="#x" x="956" y="501"/><use href="#x" x="957" y="498"/><use href="#x" x="957" y="500"/><use href="#x" x="958" y="499"/><use href="#x" x="959" y="500"/><use href="#x" x="959" y="498"/><use href="#x" x="959" y="499"/><use href="#x" x="961" y="501"/><use href="#x" x="961" y="498"/><use href="#x" x="962" y="500"/><use href="#x" x="962" y="494"/><use href="#x" x="963" y="496"/><use href="#x" x="964" y="501"/><use href="#x" x="964" y="496"/><use href="#x" x="964" y="497"/><use href="#x" x="965" y="498"/><use href="#x" x="966" y="497"/><use href="#x" x="966" y="493"/><use href="#x" x="967" y="497"/><use href="#x" x="968" y="499"/><use href="#x" x="969" y="499"/><use href="#x" x="969" y="496"/><use href="#x" x="970" y="497"/><use href="#x" x="970" y="498"/><use href="#x" x="971" y="496"/><use href="#x" x="972" y="496"/><use href="#x" x="973" y="495"/><use href="#x" x="974" y="493"/><use href="#x" x="974" y="492"/><use href="#x" x="975" y="493"/><use href="#x" x="976" y="496"/><use href="#x" x="976" y="495"/><use href="#x" x="982" y="493"/><use href="#x" x="982" y="495"/><use href="#x" x="983" y="495"/><use href="#x" x="984" y="494"/><use href="#x" x="985" y="492"/><use href="#x" x="985" y="491"/><use href="#x" x="986" y="490"/><use href="#x" x="987" y="492"/><use href="#x" x="988" y="493"/><use href="#x" x="988" y="487"/><use href="#x" x="989" y="492"/><use href="#x" x="989" y="489"/><use href="#x" x="990" y="486"/><use href="#x" x="991" y="486"/><use href="#x" x="992" y="491"/><use href="#x" x="992" y="486"/><use href="#x" x="993" y="487"/><use href="#x" x="994" y="486"/><use href="#x" x="994" y="482"/><use href="#x" x="995" y="482"/><use href="#x" x="995" y="484"/><use href="#x" x="996" y="488"/><use href="#x" x="997" y="483"/><use href="#x" x="997" y="481"/><use href="#x" x="998" y="481"/><use href="#x" x="998" y="482"/><use href="#x" x="999" y="482"/><use href="#x" x="1000" y="484"/><use href="#x" x="1000" y="477"/><use href="#x" x="1001" y="483"/><use href="#x" x="1002" y="478"/><use href="#x" x="1003" y="478"/><use href="#x" x="1003" y="482"/><use href="#x" x="1004" y="479"/><use href="#x" x="1005" y="477"/><use href="#x" x="1006" y="478"/><use href="#x" x="1007" y="481"/><use href="#x" x="1007" y="480"/><use href="#x" x="1007" y="476"/><use href="#x" x="1008" y="476"/><use href="#x" x="1009" y="476"/><use href="#x" x="1010" y="479"/><use href="#x" x="1011" y="478"/><use href="#x" x="1010" y="474"/><use href="#x" x="1012" y="475"/><use href="#x" x="1012" y="476"/><use href="#x" x="1013" y="470"/><use href="#x" x="1013" y="474"/><use href="#x" x="1021" y="467"/><use href="#x" x="1021" y="463"/><use href="#x" x="1022" y="466"/><use href="#x" x="1023" y="468"/><use href="#x" x="1024" y="468"/><use href="#x" x="1025" y="464"/><use href="#x" x="1025" y="463"/><use href="#x" x="1026" y="468"/><use href="#x" x="1027" y="463"/><use href="#x" x="1028" y="463"/><use href="#x" x="1027" y="462"/><use href="#x" x="1029" y="464"/><use href="#x" x="1029" y="458"/><use href="#x" x="1030" y="463"/><use href="#x" x="1031" y="461"/><use href="#x" x="1031" y="462"/><use href="#x" x="1032" y="458"/><use href="#x" x="1033" y="462"/><use href="#x" x="1034" y="460"/><use href="#x" x="1034" y="459"/><use href="#x" x="1035" y="459"/><use href="#x" x="1035" y="457"/><use href="#x" x="1036" y="456"/><use href="#x" x="1037" y="458"/><use href="#x" x="1037" y="455"/><use href="#x" x="1038" y="455"/><use href="#x" x="1039" y="453"/><use href="#x" x="1039" y="457"/><use href="#x" x="1041" y="454"/><use href="#x" x="1041" y="456"/><use href="#x" x="1042" y="453"/><use href="#x" x="1043" y="456"/><use href="#x" x="1044" y="452"/><use href="#x" x="1044" y="451"/><use href="#x" x="1045" y="451"/><use href="#x" x="1046" y="454"/><use href="#x" x="1047" y="449"/><use href="#x" x="1048" y="451"/><use href="#x" x="1196" y="367"/><use href="#x" x="1197" y="365"/><use href="#x" x="1198" y="367"/><use href="#x" x="1199" y="370"/><use href="#x" x="1199" y="367"/><use href="#x" x="1200" y="363"/><use href="#x" x="1201" y="364"/><use href="#x" x="1201" y="365"/><use href="#x" x="1201" y="367"/><use href="#x" x="1203" y="366"/><use href="#x" x="1203" y="365"/><use href="#x" x="1204" y="363"/><use href="#x" x="1204" y="360"/><use href="#x" x="1205" y="366"/><use href="#x" x="1205" y="364"/><use href="#x" x="1207" y="361"/><use href="#x" x="1207" y="363"/><use href="#x" x="1207" y="362"/><use href="#x" x="1208" y="361"/><use href="#x" x="1208" y="362"/><use href="#x" x="1209" y="361"/><use href="#x" x="1210" y="360"/><use href="#x" x="1211" y="364"/><use href="#x" x="1211" y="362"/><use href="#x" x="1212" y="359"/><use href="#x" x="1212" y="360"/><use href="#x" x="1213" y="360"/><use href="#x" x="1214" y="366"/><use href="#x" x="1214" y="365"/><use href="#x" x="1216" y="362"/><use href="#x" x="1217" y="363"/><use href="#x" x="1217" y="360"/><use href="#x" x="1218" y="361"/><use href="#x" x="1219" y="362"/><use href="#x" x="1219" y="359"/><use href="#x" x="1220" y="362"/><use href="#x" x="1220" y="358"/><use href="#x" x="1221" y="360"/><use href="#x" x="1221" y="361"/><use href="#x" x="1223" y="360"/><use href="#x" x="1222" y="361"/><use href="#x" x="1224" y="361"/><use href="#x" x="1224" y="357"/><use href="#x" x="1225" y="358"/><use href="#x" x="1226" y="359"/><use href="#x" x="1227" y="359"/><use href="#x" x="1227" y="356"/><use href="#x" x="1228" y="356"/><use href="#x" x="1229" y="355"/><use href="#x" x="1230" y="355"/><use href="#x" x="1231" y="357"/><use href="#x" x="1231" y="355"/><use href="#x" x="1232" y="355"/><use href="#x" x="1233" y="354"/><use href="#x" x="1233" y="355"/><use href="#x" x="1234" y="354"/><use href="#x" x="1234" y="356"/><use href="#x" x="1235" y="352"/><use href="#x" x="1243" y="347"/><use href="#x" x="1244" y="346"/><use href="#x" x="1245" y="346"/><use href="#x" x="1246" y="345"/><use href="#x" x="1247" y="347"/><use href="#x" x="1247" y="343"/><use href="#x" x="1248" y="344"/><use href="#x" x="1248" y="341"/><use href="#x" x="1249" y="343"/><use href="#x" x="1250" y="338"/><use href="#x" x="1250" y="337"/><use href="#x" x="1251" y="339"/><use href="#x" x="1252" y="340"/><use href="#x" x="1253" y="337"/><use href="#x" x="1254" y="340"/><use href="#x" x="1254" y="339"/><use href="#x" x="1255" y="336"/><use href="#x" x="1255" y="337"/><use href="#x" x="1256" y="338"/><use href="#x" x="1256" y="335"/><use href="#x" x="1257" y="334"/><use href="#x" x="1258" y="337"/><use href="#x" x="1259" y="336"/><use href="#x" x="1260" y="334"/><use href="#x" x="1260" y="332"/><use href="#x" x="1260" y="335"/><use href="#x" x="1261" y="334"/><use href="#x" x="1262" y="333"/><use href="#x" x="1262" y="334"/><use href="#x" x="1263" y="336"/><use href="#x" x="1264" y="333"/><use href="#x" x="1265" y="330"/><use href="#x" x="1265" y="332"/><use href="#x" x="1266" y="330"/><use href="#x" x="1266" y="331"/><use href="#x" x="1268" y="331"/><use href="#x" x="1269" y="329"/><use href="#x" x="1269" y="328"/><use href="#x" x="1270" y="329"/><use href="#x" x="1270" y="333"/><use href="#x" x="1271" y="329"/><use href="#x" x="1272" y="328"/><use href="#x" x="1272" y="329"/><use href="#x" x="1280" y="322"/><use href="#x" x="1281" y="317"/><use href="#x" x="1281" y="320"/><use href="#x" x="1282" y="315"/><use href="#x" x="1284" y="316"/><use href="#x" x="1284" y="318"/><use href="#x" x="1285" y="317"/><use href="#x" x="1286" y="315"/><use href="#x" x="1286" y="316"/><use href="#x" x="1287" y="314"/><use href="#x" x="1288" y="316"/><use href="#x" x="1289" y="313"/><use href="#x" x="1289" y="315"/><use href="#x" x="1290" y="313"/><use href="#x" x="1291" y="314"/><use href="#x" x="1291" y="310"/><use href="#x" x="1292" y="311"/><use href="#x" x="1293" y="309"/><use href="#x" x="1293" y="310"/><use href="#x" x="1295" y="309"/><use href="#x" x="1295" y="311"/><use href="#x" x="1296" y="310"/><use href="#x" x="1297" y="310"/><use href="#x" x="1297" y="312"/><use href="#x" x="1297" y="311"/><use href="#x" x="1299" y="308"/><use href="#x" x="1299" y="307"/><use href="#x" x="1299" y="309"/><use href="#x" x="1300" y="307"/><use href="#x" x="1301" y="307"/><use href="#x" x="1302" y="307"/><use href="#x" x="1303" y="305"/><use href="#x" x="1304" y="304"/><use href="#x" x="1304" y="303"/><use href="#x" x="1305" y="305"/><use href="#x" x="1305" y="304"/><use href="#x" x="1306" y="304"/><use href="#x" x="1307" y="300"/><use href="#x" x="1308" y="303"/><use href="#x" x="1308" y="301"/><use href="#x" x="1309" y="301"/><use href="#x" x="1310" y="299"/><use href="#x" x="1310" y="302"/><use href="#x" x="1311" y="298"/><use href="#x" x="1312" y="299"/><use href="#x" x="1312" y="296"/><use href="#x" x="1314" y="298"/><use href="#x" x="1313" y="297"/><use href="#x" x="1314" y="296"/><use href="#x" x="1315" y="296"/><use href="#x" x="1315" y="297"/><use href="#x" x="1316" y="295"/><use href="#x" x="1317" y="296"/><use href="#x" x="1318" y="293"/><use href="#x" x="1319" y="293"/><use href="#x" x="1319" y="290"/><use href="#x" x="1320" y="293"/><use href="#x" x="1320" y="292"/><use href="#x" x="1321" y="292"/><use href="#x" x="1321" y="294"/><use href="#x" x="1323" y="293"/><use href="#x" x="1323" y="289"/><use href="#x" x="1324" y="287"/><use href="#x" x="1325" y="288"/><use href="#x" x="1326" y="287"/><use href="#x" x="1326" y="288"/><use href="#x" x="1328" y="288"/><use href="#x" x="1328" y="284"/><use href="#x" x="1329" y="290"/><use href="#x" x="1330" y="288"/><use href="#x" x="1331" y="288"/><use href="#x" x="1331" y="289"/><use href="#x" x="1332" y="285"/><use href="#x" x="1333" y="282"/><use href="#x" x="1334" y="280"/><use href="#x" x="1336" y="283"/><use href="#x" x="1335" y="282"/><use href="#x" x="1336" y="281"/><use href="#x" x="1337" y="280"/><use href="#x" x="1338" y="280"/><use href="#x" x="1338" y="278"/><use href="#x" x="1339" y="277"/><use href="#x" x="1339" y="278"/><use href="#x" x="1341" y="279"/><use href="#x" x="1340" y="276"/><use href="#x" x="1342" y="278"/><use href="#x" x="1342" y="272"/><use href="#x" x="1343" y="276"/><use href="#x" x="1344" y="274"/><use href="#x" x="1344" y="273"/><use href="#x" x="1345" y="273"/><use href="#x" x="1346" y="272"/><use href="#x" x="1352" y="271"/><use href="#x" x="1353" y="270"/><use href="#x" x="1354" y="267"/><use href="#x" x="1354" y="269"/><use href="#x" x="1355" y="268"/><use href="#x" x="1356" y="268"/><use href="#x" x="1357" y="265"/><use href="#x" x="1357" y="262"/><use href="#x" x="1358" y="268"/><use href="#x" x="1359" y="264"/><use href="#x" x="1360" y="263"/><use href="#x" x="1360" y="264"/><use href="#x" x="1360" y="266"/><use href="#x" x="1361" y="261"/><use href="#x" x="1362" y="262"/><use href="#x" x="1363" y="262"/><use href="#x" x="1363" y="260"/><use href="#x" x="1364" y="259"/><use href="#x" x="1365" y="261"/><use href="#x" x="1366" y="260"/><use href="#x" x="1366" y="259"/><use href="#x" x="1366" y="258"/><use href="#x" x="1367" y="259"/><use href="#x" x="1368" y="259"/><use href="#x" x="1368" y="256"/><use href="#x" x="1369" y="254"/><use href="#x" x="1370" y="256"/><use href="#x" x="1371" y="257"/><use href="#x" x="1371" y="256"/><use href="#x" x="1372" y="256"/><use href="#x" x="1372" y="257"/><use href="#x" x="1373" y="256"/><use href="#x" x="1373" y="254"/><use href="#x" x="1374" y="257"/><use href="#x" x="1375" y="252"/><use href="#x" x="1375" y="254"/><use href="#x" x="1377" y="253"/><use href="#x" x="1377" y="256"/><use href="#x" x="1377" y="255"/><use href="#x" x="1378" y="256"/><use href="#x" x="1379" y="252"/><use href="#x" x="1380" y="252"/></g>
<text x="199" y="808.2" font-size="30.1" text-anchor="start" font-weight="bold" fill="#000">GPS:GPI/Tai2602__IP05-PT13/070-005#_&#160; 1894/1_AV/L2U__CLB__________</text>
<path d="M163 832.7L165 832L167 831.4L169 830.7L171 830.1L173 829.5L175 828.9L177 828.3L179 827.8L181 827.2L183 826.7L185 826.2L187 825.7L189 825.2L191 824.8L193 824.3L193.6 824.2" stroke="#1e90ff" stroke-width="3.8" fill="none" stroke-linejoin="round" shape-rendering="crispEdges"/>
<path d="M196.6 822.5L198.6 821.7L200.6 821L202.6 820.4L204.6 819.9L206.6 819.5L208.6 819.1L210.6 818.8L212.6 818.4L214.6 818L216.6 817.5L218.6 817L220.6 816.4L222.6 815.6L224.6 814.8L226.6 813.8L228.6 812.7L230.6 811.6L232.6 810.5L234.6 809.4L236.6 808.3L238.6 807.4L240.6 806.5L242.6 805.7L244.6 805.1L246.6 804.6L248.6 804.1L250.6 803.7L252.6 803.4L254.6 803L256.6 802.6L258.6 802.2L260.6 801.6L262.6 800.8L264.6 799.9L266.6 798.9L268.6 797.9L270.6 796.9L272.6 796L274.6 795.1L276.6 794.3L278.6 793.5L280.6 792.8L282.6 792.2L284.6 791.6L286.6 790.9L288.6 790.3L290.6 789.7L292.6 789L294.6 788.3L296.6 787.6L298.6 786.9L300.6 786.2L302.6 785.4L304.6 784.6L306.6 783.9L308.6 783.2L310.6 782.6L312.6 782L314.6 781.5L316.6 781.1L318.6 780.7L320.6 780.4L322.6 780.1L324.6 779.8L326.6 779.4L328.6 779L330.6 778.4L332.6 777.5L334.6 776.4L336.6 774.8L338.6 773L340.6 771.1L342.6 769.4L344.6 767.8L346.6 766.5L348.6 765.5L350.6 764.8L352.6 764.3L354.6 764L356.6 763.9L358.6 764L360.6 764.3L362.6 764.7L364.6 765.3L366.6 765.9L368.6 766.5L370.6 767.2L372.6 767.8L374.6 768.4L376.6 768.8L378.6 769.1L380.6 769.3L382.6 769.3L384.6 769.2L386.6 768.9L388.6 768.4L390.2 767.9" stroke="#1e90ff" stroke-width="3.8" fill="none" stroke-linejoin="round" shape-rendering="crispEdges"/>
<path d="M393.5 765.7L395.5 765L397.5 764.1L399.5 763.2L401.5 762.2L403.5 761.2L405.5 760.1L407.5 759L409.5 757.9L411.5 756.9L413.5 755.8L415.5 754.8L417.5 753.8L419.5 752.8L421.5 751.8L423.5 750.9L425.5 749.9L427.5 748.9L429.5 747.8L431.5 746.5L433.5 745.1L435.5 743.4L437.5 741.6L439.5 739.7L441.5 737.9L443.5 736L445.5 734.4L447.5 733L449.5 732.1L451.5 731.5L453.5 731.2L455.5 731.1L457.5 731.1L459.5 731.1L461.5 731.2L463.5 731.4L465.5 731.5L467.5 731.6L469.5 731.7L471.5 731.8L473.5 731.8L475.5 731.8L477.5 731.7L479.5 731.6L481.5 731.3L483.5 731L485.5 730.6L487.5 730.1L489.5 729.4L491.5 728.7L493.5 727.8L495.5 726.9L497.5 725.8L499.5 724.7L501.5 723.6L503.5 722.5L505.5 721.3L507.5 720.1L509.5 718.9L511.5 717.7L513.5 716.5L515.5 715.3L517.5 713.9L519.5 712.5L521.5 711L523.5 709.3L525.5 707.6L527.5 705.7L529.5 703.7L531.5 701.6L533.5 699.6L535.5 697.6L537.5 695.7L539.5 693.9L541.5 692.4L543.5 691L545.5 689.8L547.5 688.8L549.5 687.9" stroke="#1e90ff" stroke-width="3.8" fill="none" stroke-linejoin="round" shape-rendering="crispEdges"/>
<path d="M552 686.7L554 686.3L556 686L558 685.6L560 685.2L561.3 685" stroke="#1e90ff" stroke-width="3.8" fill="none" stroke-linejoin="round" shape-rendering="crispEdges"/>
<path d="M565.5 684.5L567.5 683.8L569.5 683.4L571.5 683.1L573.5 683L575.5 682.8L577.5 682.7L579.5 682.5L581.5 682.2L583.5 681.6L585.5 680.8L587.5 679.7L589.5 678.2L591.5 676.7L593.5 675.1L595.5 673.6L597.5 672.3L599.5 671.3L601.5 670.6L603.5 670.2L605.5 670L607.5 670L609.5 670.2L611.5 670.3L613.5 670.5L615.5 670.6L617.5 670.7L619.5 670.6L621.5 670.3L623.5 669.7L625.5 669L627.5 668.1L629.5 667.2L631.5 666.2L633.5 665.2L635.5 664.3L637.5 663.4L639.5 662.3L641.5 661.2L643.5 660L645.5 658.6L647.5 657.2L649.5 655.6L651.5 653.9L653.5 652.2L655.5 650.4L657.5 648.5L659.5 646.5L661.5 644.5L663.5 642.4L665.5 640.3L667.5 638.3L669.5 636.4L671.5 634.7L673.5 633.3L675.5 632.1L677.5 631.1L679.5 630.4L681.5 629.9L683.5 629.5L685.5 629.3L687.5 629.1L689.5 628.9L691.5 628.8L693.5 628.5L695.5 628.2L697.5 627.8L699.5 627.2L701.5 626.4L703.5 625.5L705.5 624.5L707.5 623.2L709.5 621.9L711.5 620.3L713.5 618.7L715.5 617L717.5 615.2L719.5 613.5L721.5 611.7L723.5 610L725.5 608.3L727.5 606.7L729.5 605.1L731.5 603.7L733.5 602.4L735.5 601.3L737.5 600.5L739.5 599.8L741.5 599.4L743.5 599.2L745.5 599.1L747.5 599.1L749.5 599.1L751.5 599.2L753.5 599.2L755.5 599.1L757.2 599" stroke="#1e90ff" stroke-width="3.8" fill="none" stroke-linejoin="round" shape-rendering="crispEdges"/>
<path d="M761 597.2L763 596.1L765 595L767 593.9L769 592.7L771 591.5L773 590.2L775 588.9L777 587.6L779 586.3L781 584.9L783 583.6L785 582.2L787 580.8L789 579.5L791 578.2L793 576.9L795 575.8L797 574.7L799 573.7L801 572.9L803 572.3L805 571.8L807 571.5L809 571.3L811 571.1L813 571L815 570.8L817 570.6L819 570.3L821 570L823 569.5L825 569L827 568.2L829 567.4L831 566.3L833 565L835 563.6L837 562.1L839 560.5L841 559L843 557.4L845 556L847 554.6L849 553.3L851 552.2L853 551.2L855 550.3L857 549.5L859 548.8L861 548.3L863 547.8L865 547.5L867 547.1L869 546.8L871 546.5L873 546.3L875 545.9L877 545.6L879 545.1L881 544.6L883 544L885 543.3L887 542.5L889 541.6L891 540.5L893 539.3L895 538.1L897 536.8L899 535.7L901 534.6L903 533.7L905 532.9L907 532.3L909 531.8L911 531.5L913 531.3L915 531.2L917 530.9L919 530.5L921 529.7L923 528.5L925 527.1L927 525.5L929 523.8L931 522.1L933 520.5L935 518.9L937 517.5L939 516.2L941 515L943 513.8L945 512.6L947 511.3L949 509.9L951 508.4L953 507L955 505.7L957 504.5L959 503.5L961 502.6L963 501.8L965 501.1L967 500.5L969 500L971 499.5L973 499.1L975 498.7L977 498.3L979 497.9L980.8 497.5" stroke="#1e90ff" stroke-width="3.8" fill="none" stroke-linejoin="round" shape-rendering="crispEdges"/>
<path d="M983.8 496.4L985.8 495.6L987.8 494.5L989.8 493.3L991.8 492L993.8 490.6L995.8 489.2L997.8 487.9L999.8 486.6L1001.8 485.4L1003.8 484.3L1005.8 483.1L1007.8 482L1009.8 480.9L1011.8 479.8L1013.8 478.7L1015.8 477.5L1017.8 476.2" stroke="#1e90ff" stroke-width="3.8" fill="none" stroke-linejoin="round" shape-rendering="crispEdges"/>
<path d="M1022.8 471.2L1024.8 470L1026.8 468.9L1028.8 467.6L1030.8 466.4L1032.8 465.1L1034.8 463.8L1036.8 462.4L1038.8 461.1L1040.8 459.7L1042.8 458.4L1044.8 457L1046.8 455.7L1048.8 454.4L1050.8 453.1L1051.4 452.7" stroke="#1e90ff" stroke-width="3.8" fill="none" stroke-linejoin="round" shape-rendering="crispEdges"/>
<path d="M1198.5 371.9L1200.5 369.9L1202.5 368.4L1204.5 367.2L1206.5 366.3L1208.5 365.7L1210.5 365.2L1212.5 364.9L1214.5 364.7L1216.5 364.4L1218.5 364.2L1220.5 363.9L1222.5 363.5L1224.5 363L1226.5 362.2L1228.5 361.3L1230.5 360.3L1232.5 359.2L1234.5 358L1236.5 357L1238.5 356.1L1239.4 355.7" stroke="#1e90ff" stroke-width="3.8" fill="none" stroke-linejoin="round" shape-rendering="crispEdges"/>
<path d="M1245.2 350.8L1247.2 348.6L1249.2 346.7L1251.2 344.9L1253.2 343.4L1255.2 342L1257.2 340.7L1259.2 339.5L1261.2 338.5L1263.2 337.5L1265.2 336.6L1267.2 335.7L1269.2 334.8L1271.2 333.9L1273.2 332.9L1275.2 331.9L1276.4 331.3" stroke="#1e90ff" stroke-width="3.8" fill="none" stroke-linejoin="round" shape-rendering="crispEdges"/>
<path d="M1282.3 323.5L1284.3 321.9L1286.3 320.4L1288.3 319.1L1290.3 317.9L1292.3 316.7L1294.3 315.6L1296.3 314.6L1298.3 313.5L1300.3 312.4L1302.3 311.2L1304.3 309.9L1306.3 308.5L1308.3 306.9L1310.3 305.3L1312.3 303.6L1314.3 302L1316.3 300.4L1318.3 299L1320.3 297.6L1322.3 296.2L1324.3 294.9L1326.3 293.5L1328.3 292.1L1330.3 290.7L1332.3 289.1L1334.3 287.4L1336.3 285.6L1338.3 283.9L1340.3 282.2L1342.3 280.6L1344.3 279.2L1346.3 278.2L1348.3 277.4L1349.5 277.2" stroke="#1e90ff" stroke-width="3.8" fill="none" stroke-linejoin="round" shape-rendering="crispEdges"/>
<path d="M1354.4 273.9L1356.4 271.6L1358.4 269.5L1360.4 267.8L1362.4 266.2L1364.4 264.9L1366.4 263.7L1368.4 262.7L1370.4 261.8L1372.4 260.9L1374.4 260L1376.4 259.1L1378.4 258.1L1380.4 257.1L1382.4 255.9L1384.4 254.5L1384.6 254.4" stroke="#1e90ff" stroke-width="3.8" fill="none" stroke-linejoin="round" shape-rendering="crispEdges"/>
<path d="M421.9 734.2L403.9 765.4L439.9 765.4Z" stroke="#f00" stroke-width="3.6" fill="none" stroke-linejoin="miter" shape-rendering="crispEdges"/>
<text x="421.9" y="656.2" font-size="24.5" text-anchor="middle" font-weight="bold" fill="#f00">10.8</text>
<path d="M607.2 650.5L589.2 681.7L625.2 681.7Z" stroke="#f00" stroke-width="3.6" fill="none" stroke-linejoin="miter" shape-rendering="crispEdges"/>
<text x="607.2" y="572.5" font-size="24.5" text-anchor="middle" font-weight="bold" fill="#f00">46.7</text>
<path d="M792.5 557.7L774.5 588.9L810.5 588.9Z" stroke="#f00" stroke-width="3.6" fill="none" stroke-linejoin="miter" shape-rendering="crispEdges"/>
<text x="792.5" y="479.7" font-size="24.5" text-anchor="middle" font-weight="bold" fill="#f00">86.5</text>
<path d="M977.8 478.4L959.8 509.6L995.8 509.6Z" stroke="#f00" stroke-width="3.6" fill="none" stroke-linejoin="miter" shape-rendering="crispEdges"/>
<text x="977.8" y="400.4" font-size="24.5" text-anchor="middle" font-weight="bold" fill="#f00">120.5</text>
<path d="M1163.1 360.4L1145.1 391.6L1181.1 391.6Z" stroke="#f00" stroke-width="3.6" fill="none" stroke-linejoin="miter" shape-rendering="crispEdges"/>
<text x="1163.1" y="282.4" font-size="24.5" text-anchor="middle" font-weight="bold" fill="#f00">171.1</text>
<path d="M1348.4 257.1L1330.4 288.3L1366.4 288.3Z" stroke="#f00" stroke-width="3.6" fill="none" stroke-linejoin="miter" shape-rendering="crispEdges"/>
<text x="1348.4" y="179.1" font-size="24.5" text-anchor="middle" font-weight="bold" fill="#f00">215.4</text>
<text x="198.7" y="183.3" font-size="30" text-anchor="start" font-weight="bold" fill="#6b8e23">UTC link</text>
<rect x="162.5" y="125.5" width="1260" height="720" fill="none" stroke="#000" stroke-width="1" shape-rendering="crispEdges"/>
<line x1="162" y1="118" x2="162" y2="125.5" stroke="#000" stroke-width="2" shape-rendering="crispEdges"/>
<line x1="162" y1="845.5" x2="162" y2="852" stroke="#000" stroke-width="2" shape-rendering="crispEdges"/>
<line x1="199" y1="118" x2="199" y2="125.5" stroke="#000" stroke-width="2" shape-rendering="crispEdges"/>
<line x1="199" y1="845.5" x2="199" y2="852" stroke="#000" stroke-width="2" shape-rendering="crispEdges"/>
<line x1="236" y1="118" x2="236" y2="125.5" stroke="#000" stroke-width="2" shape-rendering="crispEdges"/>
<line x1="236" y1="845.5" x2="236" y2="852" stroke="#000" stroke-width="2" shape-rendering="crispEdges"/>
<line x1="273" y1="111" x2="273" y2="125.5" stroke="#000" stroke-width="2" shape-rendering="crispEdges"/>
<line x1="273" y1="845.5" x2="273" y2="859" stroke="#000" stroke-width="2" shape-rendering="crispEdges"/>
<text x="273" y="892" font-size="30" text-anchor="middle" fill="#000">61070</text>
<line x1="310" y1="118" x2="310" y2="125.5" stroke="#000" stroke-width="2" shape-rendering="crispEdges"/>
<line x1="310" y1="845.5" x2="310" y2="852" stroke="#000" stroke-width="2" shape-rendering="crispEdges"/>
<line x1="347" y1="118" x2="347" y2="125.5" stroke="#000" stroke-width="2" shape-rendering="crispEdges"/>
<line x1="347" y1="845.5" x2="347" y2="852" stroke="#000" stroke-width="2" shape-rendering="crispEdges"/>
<line x1="384" y1="118" x2="384" y2="125.5" stroke="#000" stroke-width="2" shape-rendering="crispEdges"/>
<line x1="384" y1="845.5" x2="384" y2="852" stroke="#000" stroke-width="2" shape-rendering="crispEdges"/>
<line x1="421" y1="118" x2="421" y2="125.5" stroke="#000" stroke-width="2" shape-rendering="crispEdges"/>
<line x1="421" y1="845.5" x2="421" y2="852" stroke="#000" stroke-width="2" shape-rendering="crispEdges"/>
<line x1="458" y1="111" x2="458" y2="125.5" stroke="#000" stroke-width="2" shape-rendering="crispEdges"/>
<line x1="458" y1="845.5" x2="458" y2="859" stroke="#000" stroke-width="2" shape-rendering="crispEdges"/>
<text x="458" y="892" font-size="30" text-anchor="middle" fill="#000">61075</text>
<line x1="496" y1="118" x2="496" y2="125.5" stroke="#000" stroke-width="2" shape-rendering="crispEdges"/>
<line x1="496" y1="845.5" x2="496" y2="852" stroke="#000" stroke-width="2" shape-rendering="crispEdges"/>
<line x1="533" y1="118" x2="533" y2="125.5" stroke="#000" stroke-width="2" shape-rendering="crispEdges"/>
<line x1="533" y1="845.5" x2="533" y2="852" stroke="#000" stroke-width="2" shape-rendering="crispEdges"/>
<line x1="570" y1="118" x2="570" y2="125.5" stroke="#000" stroke-width="2" shape-rendering="crispEdges"/>
<line x1="570" y1="845.5" x2="570" y2="852" stroke="#000" stroke-width="2" shape-rendering="crispEdges"/>
<line x1="607" y1="118" x2="607" y2="125.5" stroke="#000" stroke-width="2" shape-rendering="crispEdges"/>
<line x1="607" y1="845.5" x2="607" y2="852" stroke="#000" stroke-width="2" shape-rendering="crispEdges"/>
<line x1="644" y1="111" x2="644" y2="125.5" stroke="#000" stroke-width="2" shape-rendering="crispEdges"/>
<line x1="644" y1="845.5" x2="644" y2="859" stroke="#000" stroke-width="2" shape-rendering="crispEdges"/>
<text x="644" y="892" font-size="30" text-anchor="middle" fill="#000">61080</text>
<line x1="681" y1="118" x2="681" y2="125.5" stroke="#000" stroke-width="2" shape-rendering="crispEdges"/>
<line x1="681" y1="845.5" x2="681" y2="852" stroke="#000" stroke-width="2" shape-rendering="crispEdges"/>
<line x1="718" y1="118" x2="718" y2="125.5" stroke="#000" stroke-width="2" shape-rendering="crispEdges"/>
<line x1="718" y1="845.5" x2="718" y2="852" stroke="#000" stroke-width="2" shape-rendering="crispEdges"/>
<line x1="755" y1="118" x2="755" y2="125.5" stroke="#000" stroke-width="2" shape-rendering="crispEdges"/>
<line x1="755" y1="845.5" x2="755" y2="852" stroke="#000" stroke-width="2" shape-rendering="crispEdges"/>
<line x1="792" y1="118" x2="792" y2="125.5" stroke="#000" stroke-width="2" shape-rendering="crispEdges"/>
<line x1="792" y1="845.5" x2="792" y2="852" stroke="#000" stroke-width="2" shape-rendering="crispEdges"/>
<line x1="829" y1="111" x2="829" y2="125.5" stroke="#000" stroke-width="2" shape-rendering="crispEdges"/>
<line x1="829" y1="845.5" x2="829" y2="859" stroke="#000" stroke-width="2" shape-rendering="crispEdges"/>
<text x="829" y="892" font-size="30" text-anchor="middle" fill="#000">61085</text>
<line x1="866" y1="118" x2="866" y2="125.5" stroke="#000" stroke-width="2" shape-rendering="crispEdges"/>
<line x1="866" y1="845.5" x2="866" y2="852" stroke="#000" stroke-width="2" shape-rendering="crispEdges"/>
<line x1="903" y1="118" x2="903" y2="125.5" stroke="#000" stroke-width="2" shape-rendering="crispEdges"/>
<line x1="903" y1="845.5" x2="903" y2="852" stroke="#000" stroke-width="2" shape-rendering="crispEdges"/>
<line x1="940" y1="118" x2="940" y2="125.5" stroke="#000" stroke-width="2" shape-rendering="crispEdges"/>
<line x1="940" y1="845.5" x2="940" y2="852" stroke="#000" stroke-width="2" shape-rendering="crispEdges"/>
<line x1="977" y1="118" x2="977" y2="125.5" stroke="#000" stroke-width="2" shape-rendering="crispEdges"/>
<line x1="977" y1="845.5" x2="977" y2="852" stroke="#000" stroke-width="2" shape-rendering="crispEdges"/>
<line x1="1014" y1="111" x2="1014" y2="125.5" stroke="#000" stroke-width="2" shape-rendering="crispEdges"/>
<line x1="1014" y1="845.5" x2="1014" y2="859" stroke="#000" stroke-width="2" shape-rendering="crispEdges"/>
<text x="1014" y="892" font-size="30" text-anchor="middle" fill="#000">61090</text>
<line x1="1051" y1="118" x2="1051" y2="125.5" stroke="#000" stroke-width="2" shape-rendering="crispEdges"/>
<line x1="1051" y1="845.5" x2="1051" y2="852" stroke="#000" stroke-width="2" shape-rendering="crispEdges"/>
<line x1="1088" y1="118" x2="1088" y2="125.5" stroke="#000" stroke-width="2" shape-rendering="crispEdges"/>
<line x1="1088" y1="845.5" x2="1088" y2="852" stroke="#000" stroke-width="2" shape-rendering="crispEdges"/>
<line x1="1126" y1="118" x2="1126" y2="125.5" stroke="#000" stroke-width="2" shape-rendering="crispEdges"/>
<line x1="1126" y1="845.5" x2="1126" y2="852" stroke="#000" stroke-width="2" shape-rendering="crispEdges"/>
<line x1="1163" y1="118" x2="1163" y2="125.5" stroke="#000" stroke-width="2" shape-rendering="crispEdges"/>
<line x1="1163" y1="845.5" x2="1163" y2="852" stroke="#000" stroke-width="2" shape-rendering="crispEdges"/>
<line x1="1200" y1="111" x2="1200" y2="125.5" stroke="#000" stroke-width="2" shape-rendering="crispEdges"/>
<line x1="1200" y1="845.5" x2="1200" y2="859" stroke="#000" stroke-width="2" shape-rendering="crispEdges"/>
<text x="1200" y="892" font-size="30" text-anchor="middle" fill="#000">61095</text>
<line x1="1237" y1="118" x2="1237" y2="125.5" stroke="#000" stroke-width="2" shape-rendering="crispEdges"/>
<line x1="1237" y1="845.5" x2="1237" y2="852" stroke="#000" stroke-width="2" shape-rendering="crispEdges"/>
<line x1="1274" y1="118" x2="1274" y2="125.5" stroke="#000" stroke-width="2" shape-rendering="crispEdges"/>
<line x1="1274" y1="845.5" x2="1274" y2="852" stroke="#000" stroke-width="2" shape-rendering="crispEdges"/>
<line x1="1311" y1="118" x2="1311" y2="125.5" stroke="#000" stroke-width="2" shape-rendering="crispEdges"/>
<line x1="1311" y1="845.5" x2="1311" y2="852" stroke="#000" stroke-width="2" shape-rendering="crispEdges"/>
<line x1="1348" y1="118" x2="1348" y2="125.5" stroke="#000" stroke-width="2" shape-rendering="crispEdges"/>
<line x1="1348" y1="845.5" x2="1348" y2="852" stroke="#000" stroke-width="2" shape-rendering="crispEdges"/>
<line x1="1385" y1="111" x2="1385" y2="125.5" stroke="#000" stroke-width="2" shape-rendering="crispEdges"/>
<line x1="1385" y1="845.5" x2="1385" y2="859" stroke="#000" stroke-width="2" shape-rendering="crispEdges"/>
<text x="1385" y="892" font-size="30" text-anchor="middle" fill="#000">61100</text>
<line x1="1422" y1="118" x2="1422" y2="125.5" stroke="#000" stroke-width="2" shape-rendering="crispEdges"/>
<line x1="1422" y1="845.5" x2="1422" y2="852" stroke="#000" stroke-width="2" shape-rendering="crispEdges"/>
<line x1="148" y1="780" x2="162.5" y2="780" stroke="#000" stroke-width="2" shape-rendering="crispEdges"/>
<line x1="1422.5" y1="780" x2="1436" y2="780" stroke="#000" stroke-width="2" shape-rendering="crispEdges"/>
<text x="137" y="791" font-size="30" text-anchor="end" fill="#000">0</text>
<line x1="148" y1="663" x2="162.5" y2="663" stroke="#000" stroke-width="2" shape-rendering="crispEdges"/>
<line x1="1422.5" y1="663" x2="1436" y2="663" stroke="#000" stroke-width="2" shape-rendering="crispEdges"/>
<text x="137" y="674" font-size="30" text-anchor="end" fill="#000">50</text>
<line x1="148" y1="547" x2="162.5" y2="547" stroke="#000" stroke-width="2" shape-rendering="crispEdges"/>
<line x1="1422.5" y1="547" x2="1436" y2="547" stroke="#000" stroke-width="2" shape-rendering="crispEdges"/>
<text x="137" y="558" font-size="30" text-anchor="end" fill="#000">100</text>
<line x1="148" y1="430" x2="162.5" y2="430" stroke="#000" stroke-width="2" shape-rendering="crispEdges"/>
<line x1="1422.5" y1="430" x2="1436" y2="430" stroke="#000" stroke-width="2" shape-rendering="crispEdges"/>
<text x="137" y="441" font-size="30" text-anchor="end" fill="#000">150</text>
<line x1="148" y1="314" x2="162.5" y2="314" stroke="#000" stroke-width="2" shape-rendering="crispEdges"/>
<line x1="1422.5" y1="314" x2="1436" y2="314" stroke="#000" stroke-width="2" shape-rendering="crispEdges"/>
<text x="137" y="325" font-size="30" text-anchor="end" fill="#000">200</text>
<line x1="148" y1="197" x2="162.5" y2="197" stroke="#000" stroke-width="2" shape-rendering="crispEdges"/>
<line x1="1422.5" y1="197" x2="1436" y2="197" stroke="#000" stroke-width="2" shape-rendering="crispEdges"/>
<text x="137" y="208" font-size="30" text-anchor="end" fill="#000">250</text>
<text x="77" y="485.5" font-size="30" text-anchor="middle" font-weight="bold" fill="#000" transform="rotate(-90 77 485.5)">nanosecond</text>
<text x="792.5" y="922.8" font-size="30" text-anchor="middle" font-weight="bold" fill="#000">Modified Julian Date</text>
<clipPath id="k954"><rect x="162.5" y="954.5" width="1260" height="449"/></clipPath><g fill="#000" shape-rendering="crispEdges" clip-path="url(#k954)"><use href="#x" x="160" y="1233"/><use href="#x" x="160" y="1053"/><use href="#x" x="161" y="1160"/><use href="#x" x="162" y="1233"/><use href="#x" x="162" y="1054"/><use href="#x" x="163" y="1227"/><use href="#x" x="164" y="1128"/><use href="#x" x="164" y="1337"/><use href="#x" x="165" y="1091"/><use href="#x" x="165" y="1333"/><use href="#x" x="166" y="1161"/><use href="#x" x="166" y="1343"/><use href="#x" x="167" y="1159"/><use href="#x" x="168" y="1179"/><use href="#x" x="169" y="1185"/><use href="#x" x="169" y="1194"/><use href="#x" x="170" y="1208"/><use href="#x" x="171" y="1153"/><use href="#x" x="171" y="1088"/><use href="#x" x="172" y="1182"/><use href="#x" x="172" y="1343"/><use href="#x" x="173" y="1219"/><use href="#x" x="174" y="1284"/><use href="#x" x="174" y="1191"/><use href="#x" x="175" y="1154"/><use href="#x" x="176" y="1190"/><use href="#x" x="176" y="1284"/><use href="#x" x="177" y="1235"/><use href="#x" x="178" y="1236"/><use href="#x" x="178" y="1099"/><use href="#x" x="179" y="1288"/><use href="#x" x="180" y="1232"/><use href="#x" x="180" y="1106"/><use href="#x" x="181" y="1299"/><use href="#x" x="182" y="1206"/><use href="#x" x="182" y="1168"/><use href="#x" x="183" y="1192"/><use href="#x" x="184" y="1031"/><use href="#x" x="185" y="1054"/><use href="#x" x="185" y="1162"/><use href="#x" x="186" y="1030"/><use href="#x" x="187" y="1212"/><use href="#x" x="187" y="1245"/><use href="#x" x="188" y="1230"/><use href="#x" x="188" y="1027"/><use href="#x" x="189" y="1285"/><use href="#x" x="190" y="1144"/><use href="#x" x="190" y="1300"/><use href="#x" x="191" y="1219"/><use href="#x" x="192" y="1123"/><use href="#x" x="192" y="1266"/><use href="#x" x="193" y="1041"/><use href="#x" x="194" y="1164"/><use href="#x" x="194" y="1277"/><use href="#x" x="195" y="1095"/><use href="#x" x="196" y="1231"/><use href="#x" x="196" y="1038"/><use href="#x" x="197" y="1173"/><use href="#x" x="198" y="1110"/><use href="#x" x="198" y="1114"/><use href="#x" x="199" y="1249"/><use href="#x" x="200" y="1208"/><use href="#x" x="200" y="1196"/><use href="#x" x="201" y="1220"/><use href="#x" x="202" y="1198"/><use href="#x" x="203" y="1282"/><use href="#x" x="203" y="1206"/><use href="#x" x="204" y="1099"/><use href="#x" x="205" y="1284"/><use href="#x" x="205" y="1091"/><use href="#x" x="206" y="1245"/><use href="#x" x="207" y="1185"/><use href="#x" x="208" y="1246"/><use href="#x" x="208" y="1290"/><use href="#x" x="209" y="1192"/><use href="#x" x="210" y="1067"/><use href="#x" x="211" y="1087"/><use href="#x" x="211" y="1157"/><use href="#x" x="212" y="1121"/><use href="#x" x="213" y="1036"/><use href="#x" x="213" y="1204"/><use href="#x" x="214" y="1098"/><use href="#x" x="214" y="1047"/><use href="#x" x="215" y="1275"/><use href="#x" x="216" y="1169"/><use href="#x" x="217" y="1128"/><use href="#x" x="218" y="1179"/><use href="#x" x="218" y="1196"/><use href="#x" x="219" y="1287"/><use href="#x" x="220" y="1257"/><use href="#x" x="220" y="1106"/><use href="#x" x="221" y="1190"/><use href="#x" x="222" y="1207"/><use href="#x" x="222" y="1089"/><use href="#x" x="223" y="1083"/><use href="#x" x="224" y="1195"/><use href="#x" x="224" y="1263"/><use href="#x" x="225" y="1308"/><use href="#x" x="225" y="1213"/><use href="#x" x="226" y="1126"/><use href="#x" x="227" y="1191"/><use href="#x" x="228" y="1205"/><use href="#x" x="228" y="1130"/><use href="#x" x="228" y="1149"/><use href="#x" x="229" y="1196"/><use href="#x" x="230" y="1058"/><use href="#x" x="231" y="1152"/><use href="#x" x="232" y="1273"/><use href="#x" x="233" y="1229"/><use href="#x" x="233" y="1117"/><use href="#x" x="234" y="1279"/><use href="#x" x="234" y="1169"/><use href="#x" x="235" y="1280"/><use href="#x" x="236" y="1118"/><use href="#x" x="236" y="1060"/><use href="#x" x="237" y="1129"/><use href="#x" x="238" y="1099"/><use href="#x" x="239" y="1210"/><use href="#x" x="239" y="1167"/><use href="#x" x="240" y="1313"/><use href="#x" x="240" y="1207"/><use href="#x" x="241" y="1100"/><use href="#x" x="242" y="1211"/><use href="#x" x="242" y="1159"/><use href="#x" x="243" y="1238"/><use href="#x" x="244" y="1151"/><use href="#x" x="244" y="1210"/><use href="#x" x="245" y="1123"/><use href="#x" x="245" y="1132"/><use href="#x" x="246" y="1095"/><use href="#x" x="247" y="1133"/><use href="#x" x="247" y="1279"/><use href="#x" x="249" y="1240"/><use href="#x" x="249" y="1120"/><use href="#x" x="250" y="1162"/><use href="#x" x="251" y="1080"/><use href="#x" x="252" y="1072"/><use href="#x" x="252" y="1251"/><use href="#x" x="253" y="1024"/><use href="#x" x="254" y="1214"/><use href="#x" x="254" y="1219"/><use href="#x" x="255" y="1124"/><use href="#x" x="256" y="1195"/><use href="#x" x="256" y="1099"/><use href="#x" x="257" y="1293"/><use href="#x" x="258" y="1130"/><use href="#x" x="258" y="1093"/><use href="#x" x="259" y="1144"/><use href="#x" x="259" y="1184"/><use href="#x" x="260" y="1112"/><use href="#x" x="261" y="1337"/><use href="#x" x="261" y="1101"/><use href="#x" x="262" y="1061"/><use href="#x" x="263" y="1082"/><use href="#x" x="263" y="1136"/><use href="#x" x="264" y="1193"/><use href="#x" x="264" y="1148"/><use href="#x" x="265" y="1164"/><use href="#x" x="266" y="1253"/><use href="#x" x="267" y="1191"/><use href="#x" x="267" y="1207"/><use href="#x" x="268" y="1124"/><use href="#x" x="269" y="1105"/><use href="#x" x="269" y="1141"/><use href="#x" x="270" y="1157"/><use href="#x" x="271" y="1086"/><use href="#x" x="271" y="1089"/><use href="#x" x="272" y="1186"/><use href="#x" x="272" y="1217"/><use href="#x" x="273" y="1178"/><use href="#x" x="274" y="1099"/><use href="#x" x="275" y="1092"/><use href="#x" x="275" y="1219"/><use href="#x" x="276" y="1234"/><use href="#x" x="276" y="1201"/><use href="#x" x="277" y="1162"/><use href="#x" x="278" y="1036"/><use href="#x" x="278" y="1254"/><use href="#x" x="279" y="1124"/><use href="#x" x="279" y="1175"/><use href="#x" x="280" y="1076"/><use href="#x" x="281" y="1260"/><use href="#x" x="282" y="1167"/><use href="#x" x="282" y="1099"/><use href="#x" x="282" y="1158"/><use href="#x" x="283" y="1247"/><use href="#x" x="284" y="1211"/><use href="#x" x="285" y="1304"/><use href="#x" x="285" y="1194"/><use href="#x" x="286" y="1301"/><use href="#x" x="287" y="1077"/><use href="#x" x="287" y="1198"/><use href="#x" x="288" y="1168"/><use href="#x" x="289" y="1223"/><use href="#x" x="289" y="1176"/><use href="#x" x="290" y="1075"/><use href="#x" x="290" y="1256"/><use href="#x" x="291" y="1231"/><use href="#x" x="292" y="1177"/><use href="#x" x="293" y="1259"/><use href="#x" x="293" y="1267"/><use href="#x" x="294" y="1112"/><use href="#x" x="294" y="1122"/><use href="#x" x="295" y="1290"/><use href="#x" x="296" y="1213"/><use href="#x" x="296" y="1161"/><use href="#x" x="297" y="1027"/><use href="#x" x="298" y="1078"/><use href="#x" x="298" y="1147"/><use href="#x" x="299" y="1180"/><use href="#x" x="300" y="1243"/><use href="#x" x="300" y="1279"/><use href="#x" x="301" y="1238"/><use href="#x" x="301" y="1223"/><use href="#x" x="302" y="1238"/><use href="#x" x="303" y="1138"/><use href="#x" x="303" y="1220"/><use href="#x" x="304" y="1221"/><use href="#x" x="305" y="1281"/><use href="#x" x="306" y="1092"/><use href="#x" x="306" y="1119"/><use href="#x" x="307" y="1193"/><use href="#x" x="307" y="1198"/><use href="#x" x="308" y="1084"/><use href="#x" x="309" y="1259"/><use href="#x" x="309" y="1263"/><use href="#x" x="310" y="1109"/><use href="#x" x="311" y="1277"/><use href="#x" x="311" y="1264"/><use href="#x" x="312" y="1223"/><use href="#x" x="312" y="1163"/><use href="#x" x="313" y="1281"/><use href="#x" x="314" y="1092"/><use href="#x" x="314" y="1028"/><use href="#x" x="315" y="1173"/><use href="#x" x="316" y="1035"/><use href="#x" x="317" y="1295"/><use href="#x" x="318" y="1328"/><use href="#x" x="319" y="1211"/><use href="#x" x="320" y="1173"/><use href="#x" x="321" y="1325"/><use href="#x" x="322" y="1251"/><use href="#x" x="322" y="1229"/><use href="#x" x="323" y="1115"/><use href="#x" x="323" y="1102"/><use href="#x" x="324" y="1236"/><use href="#x" x="325" y="1183"/><use href="#x" x="325" y="1255"/><use href="#x" x="326" y="1230"/><use href="#x" x="326" y="1307"/><use href="#x" x="327" y="1058"/><use href="#x" x="328" y="1160"/><use href="#x" x="329" y="1213"/><use href="#x" x="329" y="1247"/><use href="#x" x="330" y="1337"/><use href="#x" x="331" y="1105"/><use href="#x" x="331" y="1149"/><use href="#x" x="332" y="1215"/><use href="#x" x="333" y="1066"/><use href="#x" x="334" y="1270"/><use href="#x" x="335" y="1246"/><use href="#x" x="335" y="1296"/><use href="#x" x="336" y="1302"/><use href="#x" x="336" y="1269"/><use href="#x" x="337" y="1180"/><use href="#x" x="338" y="1234"/><use href="#x" x="338" y="1186"/><use href="#x" x="339" y="1338"/><use href="#x" x="340" y="1342"/><use href="#x" x="341" y="1086"/><use href="#x" x="341" y="1158"/><use href="#x" x="342" y="1145"/><use href="#x" x="343" y="1082"/><use href="#x" x="343" y="1201"/><use href="#x" x="344" y="1296"/><use href="#x" x="344" y="1218"/><use href="#x" x="345" y="1161"/><use href="#x" x="346" y="1149"/><use href="#x" x="347" y="1177"/><use href="#x" x="347" y="1105"/><use href="#x" x="348" y="1119"/><use href="#x" x="349" y="1224"/><use href="#x" x="349" y="1238"/><use href="#x" x="350" y="1300"/><use href="#x" x="350" y="1273"/><use href="#x" x="351" y="1271"/><use href="#x" x="352" y="1107"/><use href="#x" x="352" y="1130"/><use href="#x" x="353" y="1263"/><use href="#x" x="354" y="1231"/><use href="#x" x="354" y="1225"/><use href="#x" x="355" y="1211"/><use href="#x" x="355" y="1148"/><use href="#x" x="356" y="1203"/><use href="#x" x="357" y="1116"/><use href="#x" x="357" y="1187"/><use href="#x" x="358" y="1162"/><use href="#x" x="359" y="1198"/><use href="#x" x="360" y="1215"/><use href="#x" x="360" y="1217"/><use href="#x" x="361" y="1248"/><use href="#x" x="361" y="1241"/><use href="#x" x="362" y="1124"/><use href="#x" x="363" y="1133"/><use href="#x" x="363" y="1085"/><use href="#x" x="364" y="1121"/><use href="#x" x="365" y="1204"/><use href="#x" x="365" y="1283"/><use href="#x" x="366" y="1290"/><use href="#x" x="367" y="1231"/><use href="#x" x="367" y="1264"/><use href="#x" x="368" y="1252"/><use href="#x" x="369" y="1172"/><use href="#x" x="369" y="1125"/><use href="#x" x="370" y="1291"/><use href="#x" x="370" y="1192"/><use href="#x" x="371" y="1136"/><use href="#x" x="372" y="1268"/><use href="#x" x="372" y="1324"/><use href="#x" x="373" y="1283"/><use href="#x" x="374" y="1238"/><use href="#x" x="374" y="1222"/><use href="#x" x="375" y="1293"/><use href="#x" x="376" y="1237"/><use href="#x" x="376" y="1224"/><use href="#x" x="377" y="1189"/><use href="#x" x="377" y="1247"/><use href="#x" x="379" y="1265"/><use href="#x" x="379" y="1153"/><use href="#x" x="380" y="1250"/><use href="#x" x="381" y="1181"/><use href="#x" x="381" y="1236"/><use href="#x" x="382" y="1041"/><use href="#x" x="383" y="1132"/><use href="#x" x="383" y="1203"/><use href="#x" x="384" y="1230"/><use href="#x" x="385" y="1275"/><use href="#x" x="386" y="1110"/><use href="#x" x="387" y="1091"/><use href="#x" x="387" y="1344"/><use href="#x" x="388" y="1156"/><use href="#x" x="389" y="1344"/><use href="#x" x="389" y="1223"/><use href="#x" x="390" y="1194"/><use href="#x" x="390" y="1262"/><use href="#x" x="391" y="1184"/><use href="#x" x="392" y="1198"/><use href="#x" x="392" y="1207"/><use href="#x" x="393" y="1174"/><use href="#x" x="394" y="1098"/><use href="#x" x="394" y="1171"/><use href="#x" x="395" y="1230"/><use href="#x" x="395" y="1179"/><use href="#x" x="396" y="1210"/><use href="#x" x="397" y="1073"/><use href="#x" x="397" y="1260"/><use href="#x" x="398" y="1119"/><use href="#x" x="399" y="1234"/><use href="#x" x="400" y="1155"/><use href="#x" x="400" y="1103"/><use href="#x" x="401" y="1270"/><use href="#x" x="401" y="1166"/><use href="#x" x="402" y="1345"/><use href="#x" x="403" y="1155"/><use href="#x" x="403" y="1057"/><use href="#x" x="404" y="1060"/><use href="#x" x="405" y="1118"/><use href="#x" x="406" y="1194"/><use href="#x" x="406" y="1178"/><use href="#x" x="407" y="1077"/><use href="#x" x="408" y="1270"/><use href="#x" x="408" y="1052"/><use href="#x" x="409" y="1136"/><use href="#x" x="410" y="1223"/><use href="#x" x="411" y="1226"/><use href="#x" x="412" y="1247"/><use href="#x" x="412" y="1219"/><use href="#x" x="413" y="1178"/><use href="#x" x="413" y="1294"/><use href="#x" x="414" y="1216"/><use href="#x" x="415" y="1242"/><use href="#x" x="416" y="1117"/><use href="#x" x="416" y="1320"/><use href="#x" x="417" y="1241"/><use href="#x" x="418" y="1196"/><use href="#x" x="418" y="1165"/><use href="#x" x="419" y="1232"/><use href="#x" x="420" y="1326"/><use href="#x" x="420" y="1061"/><use href="#x" x="421" y="1238"/><use href="#x" x="422" y="1108"/><use href="#x" x="422" y="1127"/><use href="#x" x="422" y="1242"/><use href="#x" x="423" y="1221"/><use href="#x" x="424" y="1062"/><use href="#x" x="425" y="1192"/><use href="#x" x="425" y="1237"/><use href="#x" x="426" y="1059"/><use href="#x" x="427" y="1182"/><use href="#x" x="427" y="1222"/><use href="#x" x="428" y="1138"/><use href="#x" x="428" y="1278"/><use href="#x" x="429" y="1077"/><use href="#x" x="430" y="1223"/><use href="#x" x="430" y="1159"/><use href="#x" x="431" y="1120"/><use href="#x" x="432" y="1254"/><use href="#x" x="432" y="1204"/><use href="#x" x="433" y="1294"/><use href="#x" x="434" y="1169"/><use href="#x" x="434" y="1100"/><use href="#x" x="435" y="1211"/><use href="#x" x="435" y="1217"/><use href="#x" x="436" y="1208"/><use href="#x" x="437" y="1169"/><use href="#x" x="438" y="1175"/><use href="#x" x="439" y="1268"/><use href="#x" x="439" y="1083"/><use href="#x" x="440" y="1256"/><use href="#x" x="441" y="1050"/><use href="#x" x="441" y="1292"/><use href="#x" x="442" y="1240"/><use href="#x" x="443" y="1279"/><use href="#x" x="443" y="1213"/><use href="#x" x="444" y="1235"/><use href="#x" x="445" y="1187"/><use href="#x" x="445" y="1337"/><use href="#x" x="446" y="1167"/><use href="#x" x="446" y="1224"/><use href="#x" x="447" y="1298"/><use href="#x" x="448" y="1134"/><use href="#x" x="448" y="1137"/><use href="#x" x="449" y="1174"/><use href="#x" x="450" y="1142"/><use href="#x" x="451" y="1199"/><use href="#x" x="452" y="1118"/><use href="#x" x="452" y="1281"/><use href="#x" x="453" y="1124"/><use href="#x" x="454" y="1206"/><use href="#x" x="454" y="1326"/><use href="#x" x="455" y="1200"/><use href="#x" x="455" y="1187"/><use href="#x" x="456" y="1266"/><use href="#x" x="457" y="1102"/><use href="#x" x="458" y="1271"/><use href="#x" x="458" y="1178"/><use href="#x" x="459" y="1153"/><use href="#x" x="460" y="1190"/><use href="#x" x="461" y="1091"/><use href="#x" x="462" y="1206"/><use href="#x" x="462" y="1170"/><use href="#x" x="463" y="1154"/><use href="#x" x="463" y="1290"/><use href="#x" x="464" y="1175"/><use href="#x" x="465" y="1149"/><use href="#x" x="465" y="1082"/><use href="#x" x="466" y="1106"/><use href="#x" x="467" y="1159"/><use href="#x" x="468" y="1091"/><use href="#x" x="468" y="1244"/><use href="#x" x="469" y="1080"/><use href="#x" x="470" y="1216"/><use href="#x" x="471" y="1263"/><use href="#x" x="472" y="1090"/><use href="#x" x="472" y="1130"/><use href="#x" x="473" y="1165"/><use href="#x" x="473" y="1091"/><use href="#x" x="475" y="1238"/><use href="#x" x="475" y="1136"/><use href="#x" x="476" y="1107"/><use href="#x" x="478" y="1111"/><use href="#x" x="478" y="1314"/><use href="#x" x="479" y="1208"/><use href="#x" x="480" y="1222"/><use href="#x" x="481" y="1246"/><use href="#x" x="481" y="1322"/><use href="#x" x="482" y="1274"/><use href="#x" x="483" y="1081"/><use href="#x" x="483" y="1104"/><use href="#x" x="484" y="1032"/><use href="#x" x="485" y="1207"/><use href="#x" x="485" y="1192"/><use href="#x" x="486" y="1137"/><use href="#x" x="487" y="1197"/><use href="#x" x="487" y="1090"/><use href="#x" x="488" y="1183"/><use href="#x" x="488" y="1321"/><use href="#x" x="489" y="1110"/><use href="#x" x="490" y="1226"/><use href="#x" x="490" y="1192"/><use href="#x" x="491" y="1125"/><use href="#x" x="493" y="1249"/><use href="#x" x="494" y="1221"/><use href="#x" x="494" y="1312"/><use href="#x" x="495" y="1273"/><use href="#x" x="495" y="1158"/><use href="#x" x="496" y="1241"/><use href="#x" x="497" y="1307"/><use href="#x" x="498" y="1054"/><use href="#x" x="498" y="1279"/><use href="#x" x="499" y="1067"/><use href="#x" x="499" y="1188"/><use href="#x" x="500" y="1297"/><use href="#x" x="501" y="1255"/><use href="#x" x="501" y="1149"/><use href="#x" x="502" y="1181"/><use href="#x" x="503" y="1178"/><use href="#x" x="503" y="1137"/><use href="#x" x="504" y="1081"/><use href="#x" x="505" y="1219"/><use href="#x" x="505" y="1130"/><use href="#x" x="506" y="1148"/><use href="#x" x="506" y="1247"/><use href="#x" x="507" y="1316"/><use href="#x" x="508" y="1177"/><use href="#x" x="508" y="1039"/><use href="#x" x="509" y="1114"/><use href="#x" x="509" y="1269"/><use href="#x" x="510" y="1227"/><use href="#x" x="511" y="1218"/><use href="#x" x="511" y="1211"/><use href="#x" x="512" y="1240"/><use href="#x" x="513" y="1157"/><use href="#x" x="513" y="1146"/><use href="#x" x="514" y="1249"/><use href="#x" x="515" y="1157"/><use href="#x" x="516" y="1131"/><use href="#x" x="517" y="1234"/><use href="#x" x="518" y="1330"/><use href="#x" x="518" y="1118"/><use href="#x" x="519" y="1214"/><use href="#x" x="520" y="1116"/><use href="#x" x="520" y="1136"/><use href="#x" x="521" y="1177"/><use href="#x" x="522" y="1221"/><use href="#x" x="522" y="1186"/><use href="#x" x="523" y="1132"/><use href="#x" x="523" y="1108"/><use href="#x" x="524" y="1116"/><use href="#x" x="525" y="1186"/><use href="#x" x="526" y="1173"/><use href="#x" x="526" y="1330"/><use href="#x" x="527" y="1173"/><use href="#x" x="528" y="1245"/><use href="#x" x="528" y="1050"/><use href="#x" x="529" y="1150"/><use href="#x" x="530" y="1215"/><use href="#x" x="530" y="1035"/><use href="#x" x="531" y="1103"/><use href="#x" x="532" y="1059"/><use href="#x" x="532" y="1237"/><use href="#x" x="533" y="1277"/><use href="#x" x="533" y="1154"/><use href="#x" x="534" y="1145"/><use href="#x" x="535" y="1062"/><use href="#x" x="535" y="1040"/><use href="#x" x="536" y="1116"/><use href="#x" x="537" y="1132"/><use href="#x" x="538" y="1055"/><use href="#x" x="539" y="1240"/><use href="#x" x="539" y="1201"/><use href="#x" x="540" y="1039"/><use href="#x" x="541" y="1188"/><use href="#x" x="541" y="1202"/><use href="#x" x="542" y="1142"/><use href="#x" x="543" y="1202"/><use href="#x" x="544" y="1200"/><use href="#x" x="544" y="1270"/><use href="#x" x="545" y="1285"/><use href="#x" x="546" y="1189"/><use href="#x" x="546" y="1188"/><use href="#x" x="547" y="1261"/><use href="#x" x="548" y="1087"/><use href="#x" x="548" y="1235"/><use href="#x" x="549" y="1335"/><use href="#x" x="550" y="1160"/><use href="#x" x="550" y="1321"/><use href="#x" x="551" y="1213"/><use href="#x" x="551" y="1279"/><use href="#x" x="553" y="1309"/><use href="#x" x="553" y="1151"/><use href="#x" x="554" y="1181"/><use href="#x" x="554" y="1184"/><use href="#x" x="555" y="1213"/><use href="#x" x="556" y="1189"/><use href="#x" x="557" y="1216"/><use href="#x" x="557" y="1201"/><use href="#x" x="558" y="1279"/><use href="#x" x="559" y="1166"/><use href="#x" x="560" y="1167"/><use href="#x" x="560" y="1234"/><use href="#x" x="561" y="1192"/><use href="#x" x="562" y="1202"/><use href="#x" x="563" y="1263"/><use href="#x" x="563" y="1069"/><use href="#x" x="564" y="1147"/><use href="#x" x="564" y="1331"/><use href="#x" x="565" y="1046"/><use href="#x" x="566" y="1184"/><use href="#x" x="566" y="1177"/><use href="#x" x="567" y="1275"/><use href="#x" x="568" y="1110"/><use href="#x" x="568" y="1177"/><use href="#x" x="569" y="1216"/><use href="#x" x="570" y="1201"/><use href="#x" x="570" y="1278"/><use href="#x" x="571" y="1259"/><use href="#x" x="571" y="1319"/><use href="#x" x="572" y="1184"/><use href="#x" x="573" y="1132"/><use href="#x" x="574" y="1054"/><use href="#x" x="574" y="1109"/><use href="#x" x="575" y="1192"/><use href="#x" x="576" y="1340"/><use href="#x" x="576" y="1176"/><use href="#x" x="577" y="1174"/><use href="#x" x="577" y="1221"/><use href="#x" x="578" y="1145"/><use href="#x" x="579" y="1088"/><use href="#x" x="579" y="1250"/><use href="#x" x="580" y="1123"/><use href="#x" x="580" y="1125"/><use href="#x" x="581" y="1268"/><use href="#x" x="582" y="1344"/><use href="#x" x="582" y="1266"/><use href="#x" x="583" y="1276"/><use href="#x" x="584" y="1165"/><use href="#x" x="584" y="1162"/><use href="#x" x="585" y="1238"/><use href="#x" x="586" y="1196"/><use href="#x" x="586" y="1190"/><use href="#x" x="587" y="1080"/><use href="#x" x="588" y="1298"/><use href="#x" x="588" y="1061"/><use href="#x" x="589" y="1239"/><use href="#x" x="590" y="1069"/><use href="#x" x="591" y="1149"/><use href="#x" x="592" y="1210"/><use href="#x" x="592" y="1183"/><use href="#x" x="593" y="1187"/><use href="#x" x="593" y="1207"/><use href="#x" x="594" y="1268"/><use href="#x" x="595" y="1264"/><use href="#x" x="595" y="1217"/><use href="#x" x="596" y="1304"/><use href="#x" x="597" y="1210"/><use href="#x" x="597" y="1202"/><use href="#x" x="598" y="1251"/><use href="#x" x="599" y="1116"/><use href="#x" x="599" y="1093"/><use href="#x" x="600" y="1137"/><use href="#x" x="600" y="1065"/><use href="#x" x="601" y="1183"/><use href="#x" x="602" y="1094"/><use href="#x" x="603" y="1200"/><use href="#x" x="603" y="1145"/><use href="#x" x="604" y="1272"/><use href="#x" x="604" y="1277"/><use href="#x" x="605" y="1118"/><use href="#x" x="606" y="1159"/><use href="#x" x="607" y="1144"/><use href="#x" x="608" y="1242"/><use href="#x" x="608" y="1190"/><use href="#x" x="609" y="1143"/><use href="#x" x="609" y="1197"/><use href="#x" x="610" y="1107"/><use href="#x" x="611" y="1104"/><use href="#x" x="612" y="1157"/><use href="#x" x="613" y="1293"/><use href="#x" x="613" y="1080"/><use href="#x" x="614" y="1190"/><use href="#x" x="615" y="1041"/><use href="#x" x="615" y="1316"/><use href="#x" x="616" y="1151"/><use href="#x" x="616" y="1134"/><use href="#x" x="617" y="1223"/><use href="#x" x="618" y="1254"/><use href="#x" x="619" y="1160"/><use href="#x" x="619" y="1141"/><use href="#x" x="620" y="1323"/><use href="#x" x="621" y="1170"/><use href="#x" x="621" y="1112"/><use href="#x" x="622" y="1245"/><use href="#x" x="623" y="1181"/><use href="#x" x="624" y="1179"/><use href="#x" x="625" y="1259"/><use href="#x" x="626" y="1052"/><use href="#x" x="627" y="1141"/><use href="#x" x="627" y="1073"/><use href="#x" x="628" y="1133"/><use href="#x" x="628" y="1190"/><use href="#x" x="629" y="1258"/><use href="#x" x="630" y="1129"/><use href="#x" x="630" y="1137"/><use href="#x" x="631" y="1128"/><use href="#x" x="632" y="1196"/><use href="#x" x="632" y="1070"/><use href="#x" x="633" y="1101"/><use href="#x" x="633" y="1173"/><use href="#x" x="634" y="1096"/><use href="#x" x="635" y="1176"/><use href="#x" x="636" y="1136"/><use href="#x" x="637" y="1262"/><use href="#x" x="638" y="1060"/><use href="#x" x="638" y="1198"/><use href="#x" x="641" y="1167"/><use href="#x" x="642" y="1145"/><use href="#x" x="642" y="1332"/><use href="#x" x="643" y="1161"/><use href="#x" x="643" y="1168"/><use href="#x" x="644" y="1184"/><use href="#x" x="644" y="1252"/><use href="#x" x="645" y="1173"/><use href="#x" x="646" y="1217"/><use href="#x" x="646" y="1219"/><use href="#x" x="647" y="1175"/><use href="#x" x="648" y="1126"/><use href="#x" x="648" y="1200"/><use href="#x" x="649" y="1274"/><use href="#x" x="649" y="1182"/><use href="#x" x="650" y="1306"/><use href="#x" x="651" y="1100"/><use href="#x" x="652" y="1170"/><use href="#x" x="652" y="1163"/><use href="#x" x="653" y="1223"/><use href="#x" x="653" y="1344"/><use href="#x" x="654" y="1061"/><use href="#x" x="655" y="1250"/><use href="#x" x="655" y="1229"/><use href="#x" x="656" y="1186"/><use href="#x" x="656" y="1193"/><use href="#x" x="658" y="1133"/><use href="#x" x="658" y="1115"/><use href="#x" x="659" y="1180"/><use href="#x" x="660" y="1177"/><use href="#x" x="661" y="1340"/><use href="#x" x="661" y="1158"/><use href="#x" x="662" y="1159"/><use href="#x" x="663" y="1254"/><use href="#x" x="663" y="1158"/><use href="#x" x="664" y="1241"/><use href="#x" x="665" y="1163"/><use href="#x" x="666" y="1133"/><use href="#x" x="666" y="1146"/><use href="#x" x="667" y="1158"/><use href="#x" x="668" y="1236"/><use href="#x" x="668" y="1213"/><use href="#x" x="669" y="1274"/><use href="#x" x="670" y="1225"/><use href="#x" x="670" y="1179"/><use href="#x" x="671" y="1165"/><use href="#x" x="672" y="1263"/><use href="#x" x="673" y="1051"/><use href="#x" x="673" y="1348"/><use href="#x" x="674" y="1217"/><use href="#x" x="675" y="1338"/><use href="#x" x="675" y="1207"/><use href="#x" x="676" y="1151"/><use href="#x" x="677" y="1166"/><use href="#x" x="677" y="1155"/><use href="#x" x="678" y="1122"/><use href="#x" x="679" y="1289"/><use href="#x" x="679" y="1170"/><use href="#x" x="680" y="1138"/><use href="#x" x="681" y="1264"/><use href="#x" x="681" y="1236"/><use href="#x" x="682" y="1129"/><use href="#x" x="683" y="1285"/><use href="#x" x="683" y="1102"/><use href="#x" x="684" y="1251"/><use href="#x" x="684" y="1157"/><use href="#x" x="685" y="1115"/><use href="#x" x="686" y="1251"/><use href="#x" x="686" y="1164"/><use href="#x" x="687" y="1023"/><use href="#x" x="688" y="1165"/><use href="#x" x="688" y="1125"/><use href="#x" x="689" y="1120"/><use href="#x" x="689" y="1160"/><use href="#x" x="690" y="1151"/><use href="#x" x="691" y="1139"/><use href="#x" x="692" y="1119"/><use href="#x" x="692" y="1190"/><use href="#x" x="693" y="1170"/><use href="#x" x="693" y="1210"/><use href="#x" x="694" y="1163"/><use href="#x" x="694" y="1159"/><use href="#x" x="695" y="1292"/><use href="#x" x="696" y="1101"/><use href="#x" x="697" y="1184"/><use href="#x" x="697" y="1291"/><use href="#x" x="698" y="1151"/><use href="#x" x="699" y="1156"/><use href="#x" x="699" y="1300"/><use href="#x" x="700" y="1252"/><use href="#x" x="701" y="1191"/><use href="#x" x="701" y="1275"/><use href="#x" x="702" y="1135"/><use href="#x" x="702" y="1343"/><use href="#x" x="703" y="1318"/><use href="#x" x="704" y="1207"/><use href="#x" x="704" y="1079"/><use href="#x" x="705" y="1199"/><use href="#x" x="706" y="1165"/><use href="#x" x="706" y="1110"/><use href="#x" x="707" y="1325"/><use href="#x" x="707" y="1216"/><use href="#x" x="709" y="1228"/><use href="#x" x="709" y="1237"/><use href="#x" x="710" y="1296"/><use href="#x" x="710" y="1186"/><use href="#x" x="711" y="1150"/><use href="#x" x="711" y="1128"/><use href="#x" x="712" y="1195"/><use href="#x" x="713" y="1267"/><use href="#x" x="713" y="1127"/><use href="#x" x="714" y="1242"/><use href="#x" x="715" y="1038"/><use href="#x" x="715" y="1145"/><use href="#x" x="716" y="1084"/><use href="#x" x="716" y="1240"/><use href="#x" x="717" y="1123"/><use href="#x" x="718" y="1203"/><use href="#x" x="719" y="1306"/><use href="#x" x="719" y="1174"/><use href="#x" x="720" y="1203"/><use href="#x" x="720" y="1123"/><use href="#x" x="721" y="1185"/><use href="#x" x="722" y="1096"/><use href="#x" x="722" y="1216"/><use href="#x" x="723" y="1050"/><use href="#x" x="724" y="1208"/><use href="#x" x="725" y="1118"/><use href="#x" x="726" y="1327"/><use href="#x" x="726" y="1203"/><use href="#x" x="727" y="1166"/><use href="#x" x="727" y="1285"/><use href="#x" x="728" y="1227"/><use href="#x" x="729" y="1096"/><use href="#x" x="730" y="1186"/><use href="#x" x="730" y="1073"/><use href="#x" x="731" y="1190"/><use href="#x" x="732" y="1131"/><use href="#x" x="732" y="1182"/><use href="#x" x="733" y="1147"/><use href="#x" x="734" y="1238"/><use href="#x" x="734" y="1052"/><use href="#x" x="735" y="1053"/><use href="#x" x="736" y="1175"/><use href="#x" x="736" y="1191"/><use href="#x" x="736" y="1131"/><use href="#x" x="737" y="1108"/><use href="#x" x="738" y="1235"/><use href="#x" x="739" y="1054"/><use href="#x" x="739" y="1041"/><use href="#x" x="740" y="1198"/><use href="#x" x="741" y="1233"/><use href="#x" x="741" y="1207"/><use href="#x" x="742" y="1195"/><use href="#x" x="742" y="1198"/><use href="#x" x="743" y="1110"/><use href="#x" x="744" y="1104"/><use href="#x" x="745" y="1131"/><use href="#x" x="745" y="1170"/><use href="#x" x="746" y="1083"/><use href="#x" x="747" y="1150"/><use href="#x" x="748" y="1202"/><use href="#x" x="748" y="1315"/><use href="#x" x="749" y="1087"/><use href="#x" x="749" y="1176"/><use href="#x" x="751" y="1227"/><use href="#x" x="752" y="1294"/><use href="#x" x="752" y="1066"/><use href="#x" x="753" y="1232"/><use href="#x" x="753" y="1111"/><use href="#x" x="754" y="1152"/><use href="#x" x="754" y="1133"/><use href="#x" x="755" y="1201"/><use href="#x" x="756" y="1098"/><use href="#x" x="756" y="1260"/><use href="#x" x="757" y="1211"/><use href="#x" x="758" y="1191"/><use href="#x" x="759" y="1327"/><use href="#x" x="759" y="1318"/><use href="#x" x="760" y="1210"/><use href="#x" x="760" y="1177"/><use href="#x" x="761" y="1317"/><use href="#x" x="762" y="1198"/><use href="#x" x="763" y="1164"/><use href="#x" x="764" y="1162"/><use href="#x" x="765" y="1150"/><use href="#x" x="766" y="1043"/><use href="#x" x="766" y="1280"/><use href="#x" x="767" y="1092"/><use href="#x" x="768" y="1169"/><use href="#x" x="768" y="1168"/><use href="#x" x="769" y="1285"/><use href="#x" x="769" y="1130"/><use href="#x" x="770" y="1295"/><use href="#x" x="771" y="1143"/><use href="#x" x="772" y="1321"/><use href="#x" x="773" y="1318"/><use href="#x" x="774" y="1149"/><use href="#x" x="774" y="1157"/><use href="#x" x="775" y="1167"/><use href="#x" x="775" y="1182"/><use href="#x" x="776" y="1188"/><use href="#x" x="777" y="1140"/><use href="#x" x="777" y="1202"/><use href="#x" x="778" y="1126"/><use href="#x" x="778" y="1315"/><use href="#x" x="779" y="1242"/><use href="#x" x="780" y="1211"/><use href="#x" x="780" y="1289"/><use href="#x" x="781" y="1305"/><use href="#x" x="782" y="1108"/><use href="#x" x="782" y="1059"/><use href="#x" x="783" y="1096"/><use href="#x" x="784" y="1148"/><use href="#x" x="786" y="1181"/><use href="#x" x="787" y="1290"/><use href="#x" x="788" y="1109"/><use href="#x" x="788" y="1124"/><use href="#x" x="789" y="1134"/><use href="#x" x="789" y="1260"/><use href="#x" x="790" y="1269"/><use href="#x" x="791" y="1254"/><use href="#x" x="791" y="1164"/><use href="#x" x="792" y="1122"/><use href="#x" x="793" y="1261"/><use href="#x" x="795" y="1109"/><use href="#x" x="795" y="1119"/><use href="#x" x="796" y="1129"/><use href="#x" x="797" y="1117"/><use href="#x" x="797" y="1282"/><use href="#x" x="798" y="1242"/><use href="#x" x="799" y="1290"/><use href="#x" x="799" y="1028"/><use href="#x" x="800" y="1198"/><use href="#x" x="800" y="1255"/><use href="#x" x="801" y="1163"/><use href="#x" x="802" y="1257"/><use href="#x" x="802" y="1111"/><use href="#x" x="803" y="1060"/><use href="#x" x="804" y="1159"/><use href="#x" x="804" y="1243"/><use href="#x" x="805" y="1243"/><use href="#x" x="806" y="1065"/><use href="#x" x="807" y="1338"/><use href="#x" x="808" y="1231"/><use href="#x" x="809" y="1206"/><use href="#x" x="810" y="1289"/><use href="#x" x="810" y="1207"/><use href="#x" x="811" y="1164"/><use href="#x" x="811" y="1086"/><use href="#x" x="812" y="1283"/><use href="#x" x="813" y="1270"/><use href="#x" x="814" y="1166"/><use href="#x" x="815" y="1085"/><use href="#x" x="815" y="1273"/><use href="#x" x="816" y="1158"/><use href="#x" x="816" y="1193"/><use href="#x" x="817" y="1138"/><use href="#x" x="818" y="1241"/><use href="#x" x="819" y="1030"/><use href="#x" x="819" y="1059"/><use href="#x" x="820" y="1233"/><use href="#x" x="820" y="1132"/><use href="#x" x="821" y="1064"/><use href="#x" x="821" y="1301"/><use href="#x" x="823" y="1226"/><use href="#x" x="823" y="1151"/><use href="#x" x="824" y="1127"/><use href="#x" x="824" y="1060"/><use href="#x" x="825" y="1250"/><use href="#x" x="826" y="1193"/><use href="#x" x="826" y="1126"/><use href="#x" x="827" y="1281"/><use href="#x" x="828" y="1156"/><use href="#x" x="828" y="1179"/><use href="#x" x="829" y="1216"/><use href="#x" x="830" y="1197"/><use href="#x" x="830" y="1183"/><use href="#x" x="831" y="1203"/><use href="#x" x="832" y="1297"/><use href="#x" x="832" y="1029"/><use href="#x" x="833" y="1184"/><use href="#x" x="833" y="1194"/><use href="#x" x="834" y="1295"/><use href="#x" x="835" y="1191"/><use href="#x" x="835" y="1048"/><use href="#x" x="836" y="1038"/><use href="#x" x="837" y="1169"/><use href="#x" x="838" y="1224"/><use href="#x" x="838" y="1068"/><use href="#x" x="839" y="1228"/><use href="#x" x="840" y="1293"/><use href="#x" x="841" y="1263"/><use href="#x" x="842" y="1151"/><use href="#x" x="842" y="1176"/><use href="#x" x="843" y="1280"/><use href="#x" x="844" y="1204"/><use href="#x" x="844" y="1169"/><use href="#x" x="845" y="1097"/><use href="#x" x="845" y="1159"/><use href="#x" x="846" y="1291"/><use href="#x" x="847" y="1203"/><use href="#x" x="849" y="1232"/><use href="#x" x="849" y="1099"/><use href="#x" x="850" y="1150"/><use href="#x" x="851" y="1125"/><use href="#x" x="851" y="1235"/><use href="#x" x="852" y="1163"/><use href="#x" x="853" y="1126"/><use href="#x" x="854" y="1193"/><use href="#x" x="854" y="1205"/><use href="#x" x="855" y="1214"/><use href="#x" x="856" y="1143"/><use href="#x" x="856" y="1067"/><use href="#x" x="857" y="1315"/><use href="#x" x="858" y="1311"/><use href="#x" x="858" y="1141"/><use href="#x" x="859" y="1187"/><use href="#x" x="859" y="1272"/><use href="#x" x="860" y="1242"/><use href="#x" x="861" y="1082"/><use href="#x" x="862" y="1019"/><use href="#x" x="862" y="1102"/><use href="#x" x="863" y="1176"/><use href="#x" x="864" y="1100"/><use href="#x" x="864" y="1189"/><use href="#x" x="865" y="1081"/><use href="#x" x="865" y="1158"/><use href="#x" x="866" y="1200"/><use href="#x" x="867" y="1206"/><use href="#x" x="867" y="1257"/><use href="#x" x="868" y="1251"/><use href="#x" x="869" y="1275"/><use href="#x" x="870" y="1190"/><use href="#x" x="870" y="1256"/><use href="#x" x="871" y="1258"/><use href="#x" x="871" y="1120"/><use href="#x" x="872" y="1119"/><use href="#x" x="873" y="1129"/><use href="#x" x="873" y="1171"/><use href="#x" x="874" y="1272"/><use href="#x" x="874" y="1229"/><use href="#x" x="875" y="1146"/><use href="#x" x="876" y="1206"/><use href="#x" x="876" y="1187"/><use href="#x" x="877" y="1096"/><use href="#x" x="878" y="1095"/><use href="#x" x="878" y="1105"/><use href="#x" x="879" y="1110"/><use href="#x" x="880" y="1167"/><use href="#x" x="881" y="1196"/><use href="#x" x="882" y="1131"/><use href="#x" x="883" y="1281"/><use href="#x" x="883" y="1159"/><use href="#x" x="884" y="1296"/><use href="#x" x="885" y="1087"/><use href="#x" x="885" y="1078"/><use href="#x" x="886" y="1182"/><use href="#x" x="887" y="1165"/><use href="#x" x="887" y="1067"/><use href="#x" x="888" y="1273"/><use href="#x" x="889" y="1150"/><use href="#x" x="889" y="1257"/><use href="#x" x="890" y="1296"/><use href="#x" x="891" y="1199"/><use href="#x" x="891" y="1027"/><use href="#x" x="892" y="1121"/><use href="#x" x="893" y="1148"/><use href="#x" x="893" y="1258"/><use href="#x" x="894" y="1124"/><use href="#x" x="895" y="1235"/><use href="#x" x="896" y="1269"/><use href="#x" x="897" y="1058"/><use href="#x" x="897" y="1137"/><use href="#x" x="898" y="1145"/><use href="#x" x="899" y="1158"/><use href="#x" x="900" y="1117"/><use href="#x" x="901" y="1167"/><use href="#x" x="901" y="1218"/><use href="#x" x="902" y="1302"/><use href="#x" x="903" y="1143"/><use href="#x" x="904" y="1230"/><use href="#x" x="904" y="1163"/><use href="#x" x="905" y="1267"/><use href="#x" x="906" y="1225"/><use href="#x" x="906" y="1267"/><use href="#x" x="907" y="1105"/><use href="#x" x="908" y="1128"/><use href="#x" x="908" y="1163"/><use href="#x" x="909" y="1193"/><use href="#x" x="909" y="1192"/><use href="#x" x="910" y="1212"/><use href="#x" x="910" y="1205"/><use href="#x" x="911" y="1312"/><use href="#x" x="912" y="1142"/><use href="#x" x="913" y="1294"/><use href="#x" x="913" y="1333"/><use href="#x" x="914" y="1234"/><use href="#x" x="914" y="1225"/><use href="#x" x="915" y="1221"/><use href="#x" x="916" y="1114"/><use href="#x" x="916" y="1179"/><use href="#x" x="917" y="1217"/><use href="#x" x="918" y="1178"/><use href="#x" x="918" y="1239"/><use href="#x" x="919" y="1084"/><use href="#x" x="919" y="1261"/><use href="#x" x="921" y="1169"/><use href="#x" x="921" y="1157"/><use href="#x" x="922" y="1048"/><use href="#x" x="923" y="1242"/><use href="#x" x="924" y="1263"/><use href="#x" x="924" y="1134"/><use href="#x" x="925" y="1181"/><use href="#x" x="925" y="1073"/><use href="#x" x="926" y="1105"/><use href="#x" x="927" y="1209"/><use href="#x" x="928" y="1096"/><use href="#x" x="929" y="1184"/><use href="#x" x="929" y="1248"/><use href="#x" x="930" y="1196"/><use href="#x" x="931" y="1272"/><use href="#x" x="931" y="1109"/><use href="#x" x="932" y="1126"/><use href="#x" x="933" y="1152"/><use href="#x" x="933" y="1322"/><use href="#x" x="934" y="1178"/><use href="#x" x="935" y="1328"/><use href="#x" x="936" y="1146"/><use href="#x" x="936" y="1252"/><use href="#x" x="938" y="1065"/><use href="#x" x="938" y="1220"/><use href="#x" x="939" y="1202"/><use href="#x" x="940" y="1069"/><use href="#x" x="941" y="1138"/><use href="#x" x="942" y="1082"/><use href="#x" x="942" y="1206"/><use href="#x" x="943" y="1072"/><use href="#x" x="943" y="1138"/><use href="#x" x="944" y="1197"/><use href="#x" x="945" y="1159"/><use href="#x" x="946" y="1183"/><use href="#x" x="946" y="1271"/><use href="#x" x="946" y="1180"/><use href="#x" x="947" y="1093"/><use href="#x" x="948" y="1239"/><use href="#x" x="949" y="1199"/><use href="#x" x="949" y="1186"/><use href="#x" x="950" y="1165"/><use href="#x" x="951" y="1125"/><use href="#x" x="951" y="1254"/><use href="#x" x="952" y="1176"/><use href="#x" x="953" y="1243"/><use href="#x" x="953" y="1169"/><use href="#x" x="954" y="1138"/><use href="#x" x="955" y="1266"/><use href="#x" x="955" y="1084"/><use href="#x" x="956" y="1127"/><use href="#x" x="956" y="1164"/><use href="#x" x="957" y="1146"/><use href="#x" x="958" y="1120"/><use href="#x" x="958" y="1177"/><use href="#x" x="959" y="1119"/><use href="#x" x="960" y="1282"/><use href="#x" x="960" y="1273"/><use href="#x" x="961" y="1238"/><use href="#x" x="961" y="1250"/><use href="#x" x="962" y="1172"/><use href="#x" x="963" y="1174"/><use href="#x" x="964" y="1163"/><use href="#x" x="964" y="1099"/><use href="#x" x="965" y="1313"/><use href="#x" x="966" y="1158"/><use href="#x" x="967" y="1024"/><use href="#x" x="967" y="1232"/><use href="#x" x="968" y="1033"/><use href="#x" x="969" y="1302"/><use href="#x" x="969" y="1098"/><use href="#x" x="970" y="1259"/><use href="#x" x="970" y="1300"/><use href="#x" x="971" y="1090"/><use href="#x" x="972" y="1046"/><use href="#x" x="973" y="1314"/><use href="#x" x="973" y="1214"/><use href="#x" x="974" y="1148"/><use href="#x" x="974" y="1256"/><use href="#x" x="975" y="1125"/><use href="#x" x="976" y="1176"/><use href="#x" x="976" y="1271"/><use href="#x" x="977" y="1155"/><use href="#x" x="978" y="1192"/><use href="#x" x="978" y="1151"/><use href="#x" x="979" y="1137"/><use href="#x" x="980" y="1135"/><use href="#x" x="980" y="1269"/><use href="#x" x="982" y="1035"/><use href="#x" x="982" y="1125"/><use href="#x" x="983" y="1030"/><use href="#x" x="983" y="1220"/><use href="#x" x="985" y="1149"/><use href="#x" x="985" y="1134"/><use href="#x" x="986" y="1124"/><use href="#x" x="987" y="1341"/><use href="#x" x="987" y="1101"/><use href="#x" x="988" y="1123"/><use href="#x" x="989" y="1109"/><use href="#x" x="989" y="1182"/><use href="#x" x="990" y="1277"/><use href="#x" x="991" y="1236"/><use href="#x" x="991" y="1143"/><use href="#x" x="992" y="1108"/><use href="#x" x="992" y="1189"/><use href="#x" x="993" y="1177"/><use href="#x" x="994" y="1144"/><use href="#x" x="994" y="1090"/><use href="#x" x="995" y="1118"/><use href="#x" x="996" y="1333"/><use href="#x" x="996" y="1161"/><use href="#x" x="997" y="1185"/><use href="#x" x="998" y="1215"/><use href="#x" x="998" y="1117"/><use href="#x" x="999" y="1188"/><use href="#x" x="999" y="1322"/><use href="#x" x="1000" y="1329"/><use href="#x" x="1001" y="1238"/><use href="#x" x="1002" y="1170"/><use href="#x" x="1002" y="1055"/><use href="#x" x="1003" y="1158"/><use href="#x" x="1003" y="1092"/><use href="#x" x="1004" y="1237"/><use href="#x" x="1005" y="1153"/><use href="#x" x="1005" y="1317"/><use href="#x" x="1006" y="1173"/><use href="#x" x="1006" y="1213"/><use href="#x" x="1007" y="1127"/><use href="#x" x="1008" y="1276"/><use href="#x" x="1009" y="1222"/><use href="#x" x="1009" y="1217"/><use href="#x" x="1010" y="1318"/><use href="#x" x="1011" y="1275"/><use href="#x" x="1011" y="1123"/><use href="#x" x="1012" y="1137"/><use href="#x" x="1013" y="1292"/><use href="#x" x="1013" y="1345"/><use href="#x" x="1014" y="1161"/><use href="#x" x="1015" y="1147"/><use href="#x" x="1015" y="1302"/><use href="#x" x="1016" y="1090"/><use href="#x" x="1016" y="1220"/><use href="#x" x="1017" y="1273"/><use href="#x" x="1018" y="1223"/><use href="#x" x="1018" y="1278"/><use href="#x" x="1019" y="1125"/><use href="#x" x="1020" y="1162"/><use href="#x" x="1020" y="1201"/><use href="#x" x="1021" y="1236"/><use href="#x" x="1021" y="1058"/><use href="#x" x="1022" y="1256"/><use href="#x" x="1023" y="1234"/><use href="#x" x="1023" y="1101"/><use href="#x" x="1024" y="1192"/><use href="#x" x="1025" y="1035"/><use href="#x" x="1026" y="1171"/><use href="#x" x="1026" y="1133"/><use href="#x" x="1027" y="1151"/><use href="#x" x="1028" y="1247"/><use href="#x" x="1028" y="1178"/><use href="#x" x="1030" y="1127"/><use href="#x" x="1031" y="1166"/><use href="#x" x="1031" y="1060"/><use href="#x" x="1032" y="1153"/><use href="#x" x="1032" y="1148"/><use href="#x" x="1033" y="1196"/><use href="#x" x="1034" y="1105"/><use href="#x" x="1034" y="1245"/><use href="#x" x="1036" y="1132"/><use href="#x" x="1036" y="1072"/><use href="#x" x="1037" y="1168"/><use href="#x" x="1038" y="1203"/><use href="#x" x="1038" y="1197"/><use href="#x" x="1039" y="1181"/><use href="#x" x="1040" y="1211"/><use href="#x" x="1040" y="1023"/><use href="#x" x="1041" y="1233"/><use href="#x" x="1042" y="1208"/><use href="#x" x="1042" y="1269"/><use href="#x" x="1043" y="1078"/><use href="#x" x="1043" y="1176"/><use href="#x" x="1044" y="1028"/><use href="#x" x="1045" y="1130"/><use href="#x" x="1046" y="1120"/><use href="#x" x="1046" y="1198"/><use href="#x" x="1048" y="1203"/><use href="#x" x="1048" y="1135"/><use href="#x" x="1049" y="1300"/><use href="#x" x="1197" y="1185"/><use href="#x" x="1198" y="1219"/><use href="#x" x="1198" y="1234"/><use href="#x" x="1199" y="1210"/><use href="#x" x="1200" y="1101"/><use href="#x" x="1200" y="1289"/><use href="#x" x="1201" y="1167"/><use href="#x" x="1202" y="1308"/><use href="#x" x="1202" y="1208"/><use href="#x" x="1203" y="1183"/><use href="#x" x="1204" y="1120"/><use href="#x" x="1204" y="1215"/><use href="#x" x="1205" y="1135"/><use href="#x" x="1206" y="1186"/><use href="#x" x="1206" y="1245"/><use href="#x" x="1207" y="1257"/><use href="#x" x="1207" y="1251"/><use href="#x" x="1208" y="1249"/><use href="#x" x="1209" y="1297"/><use href="#x" x="1211" y="1302"/><use href="#x" x="1211" y="1203"/><use href="#x" x="1212" y="1275"/><use href="#x" x="1213" y="1186"/><use href="#x" x="1214" y="1190"/><use href="#x" x="1214" y="1156"/><use href="#x" x="1215" y="1220"/><use href="#x" x="1216" y="1250"/><use href="#x" x="1217" y="1168"/><use href="#x" x="1218" y="1214"/><use href="#x" x="1219" y="1324"/><use href="#x" x="1220" y="1270"/><use href="#x" x="1221" y="1168"/><use href="#x" x="1221" y="1287"/><use href="#x" x="1222" y="1300"/><use href="#x" x="1223" y="1166"/><use href="#x" x="1223" y="1137"/><use href="#x" x="1224" y="1307"/><use href="#x" x="1224" y="1068"/><use href="#x" x="1225" y="1113"/><use href="#x" x="1226" y="1121"/><use href="#x" x="1226" y="1173"/><use href="#x" x="1227" y="1254"/><use href="#x" x="1228" y="1267"/><use href="#x" x="1228" y="1167"/><use href="#x" x="1229" y="1127"/><use href="#x" x="1229" y="1155"/><use href="#x" x="1230" y="1154"/><use href="#x" x="1231" y="1280"/><use href="#x" x="1231" y="1135"/><use href="#x" x="1232" y="1147"/><use href="#x" x="1233" y="1226"/><use href="#x" x="1233" y="1203"/><use href="#x" x="1234" y="1217"/><use href="#x" x="1235" y="1054"/><use href="#x" x="1235" y="1075"/><use href="#x" x="1236" y="1146"/><use href="#x" x="1237" y="1190"/><use href="#x" x="1238" y="1215"/><use href="#x" x="1239" y="1227"/><use href="#x" x="1239" y="1264"/><use href="#x" x="1240" y="1036"/><use href="#x" x="1240" y="1179"/><use href="#x" x="1241" y="1075"/><use href="#x" x="1242" y="1108"/><use href="#x" x="1243" y="1166"/><use href="#x" x="1244" y="1217"/><use href="#x" x="1244" y="1241"/><use href="#x" x="1244" y="1177"/><use href="#x" x="1245" y="1085"/><use href="#x" x="1246" y="1221"/><use href="#x" x="1247" y="1097"/><use href="#x" x="1248" y="1168"/><use href="#x" x="1248" y="1067"/><use href="#x" x="1249" y="1224"/><use href="#x" x="1249" y="1151"/><use href="#x" x="1250" y="1189"/><use href="#x" x="1251" y="1096"/><use href="#x" x="1251" y="1203"/><use href="#x" x="1252" y="1302"/><use href="#x" x="1253" y="1093"/><use href="#x" x="1253" y="1315"/><use href="#x" x="1254" y="1176"/><use href="#x" x="1254" y="1089"/><use href="#x" x="1255" y="1126"/><use href="#x" x="1256" y="1201"/><use href="#x" x="1257" y="1238"/><use href="#x" x="1257" y="1277"/><use href="#x" x="1258" y="1037"/><use href="#x" x="1258" y="1341"/><use href="#x" x="1259" y="1277"/><use href="#x" x="1260" y="1209"/><use href="#x" x="1260" y="1186"/><use href="#x" x="1261" y="1156"/><use href="#x" x="1262" y="1220"/><use href="#x" x="1262" y="1143"/><use href="#x" x="1263" y="1157"/><use href="#x" x="1264" y="1209"/><use href="#x" x="1264" y="1163"/><use href="#x" x="1265" y="1150"/><use href="#x" x="1265" y="1163"/><use href="#x" x="1266" y="1271"/><use href="#x" x="1267" y="1182"/><use href="#x" x="1268" y="1084"/><use href="#x" x="1268" y="1170"/><use href="#x" x="1269" y="1140"/><use href="#x" x="1270" y="1241"/><use href="#x" x="1270" y="1126"/><use href="#x" x="1271" y="1171"/><use href="#x" x="1272" y="1113"/><use href="#x" x="1273" y="1142"/><use href="#x" x="1273" y="1160"/><use href="#x" x="1274" y="1157"/><use href="#x" x="1275" y="1255"/><use href="#x" x="1276" y="1068"/><use href="#x" x="1276" y="1209"/><use href="#x" x="1277" y="1161"/><use href="#x" x="1278" y="1262"/><use href="#x" x="1279" y="1254"/><use href="#x" x="1279" y="1141"/><use href="#x" x="1280" y="1205"/><use href="#x" x="1280" y="1129"/><use href="#x" x="1281" y="1092"/><use href="#x" x="1282" y="1248"/><use href="#x" x="1283" y="1153"/><use href="#x" x="1283" y="1337"/><use href="#x" x="1284" y="1094"/><use href="#x" x="1285" y="1220"/><use href="#x" x="1286" y="1257"/><use href="#x" x="1287" y="1249"/><use href="#x" x="1288" y="1097"/><use href="#x" x="1289" y="1234"/><use href="#x" x="1289" y="1319"/><use href="#x" x="1290" y="1144"/><use href="#x" x="1291" y="1283"/><use href="#x" x="1291" y="1289"/><use href="#x" x="1292" y="1200"/><use href="#x" x="1293" y="1244"/><use href="#x" x="1294" y="1073"/><use href="#x" x="1295" y="1284"/><use href="#x" x="1295" y="1158"/><use href="#x" x="1296" y="1112"/><use href="#x" x="1296" y="1189"/><use href="#x" x="1297" y="1147"/><use href="#x" x="1297" y="1121"/><use href="#x" x="1298" y="1139"/><use href="#x" x="1299" y="1117"/><use href="#x" x="1300" y="1137"/><use href="#x" x="1300" y="1262"/><use href="#x" x="1301" y="1159"/><use href="#x" x="1302" y="1151"/><use href="#x" x="1302" y="1220"/><use href="#x" x="1304" y="1173"/><use href="#x" x="1304" y="1146"/><use href="#x" x="1305" y="1185"/><use href="#x" x="1305" y="1189"/><use href="#x" x="1306" y="1030"/><use href="#x" x="1307" y="1197"/><use href="#x" x="1307" y="1281"/><use href="#x" x="1308" y="1116"/><use href="#x" x="1309" y="1241"/><use href="#x" x="1309" y="1201"/><use href="#x" x="1310" y="1129"/><use href="#x" x="1310" y="1211"/><use href="#x" x="1311" y="1174"/><use href="#x" x="1312" y="1138"/><use href="#x" x="1313" y="1157"/><use href="#x" x="1314" y="1315"/><use href="#x" x="1314" y="1104"/><use href="#x" x="1315" y="1304"/><use href="#x" x="1316" y="1188"/><use href="#x" x="1316" y="1226"/><use href="#x" x="1317" y="1083"/><use href="#x" x="1318" y="1239"/><use href="#x" x="1318" y="1188"/><use href="#x" x="1319" y="1272"/><use href="#x" x="1320" y="1091"/><use href="#x" x="1320" y="1150"/><use href="#x" x="1321" y="1088"/><use href="#x" x="1322" y="1140"/><use href="#x" x="1322" y="1230"/><use href="#x" x="1323" y="1289"/><use href="#x" x="1323" y="1176"/><use href="#x" x="1324" y="1134"/><use href="#x" x="1325" y="1151"/><use href="#x" x="1326" y="1198"/><use href="#x" x="1326" y="1298"/><use href="#x" x="1327" y="1169"/><use href="#x" x="1327" y="1185"/><use href="#x" x="1328" y="1307"/><use href="#x" x="1329" y="1196"/><use href="#x" x="1329" y="1177"/><use href="#x" x="1330" y="1136"/><use href="#x" x="1331" y="1119"/><use href="#x" x="1331" y="1147"/><use href="#x" x="1333" y="1074"/><use href="#x" x="1333" y="1140"/><use href="#x" x="1334" y="1272"/><use href="#x" x="1335" y="1039"/><use href="#x" x="1335" y="1167"/><use href="#x" x="1336" y="1206"/><use href="#x" x="1336" y="1162"/><use href="#x" x="1337" y="1169"/><use href="#x" x="1338" y="1141"/><use href="#x" x="1339" y="1138"/><use href="#x" x="1339" y="1227"/><use href="#x" x="1340" y="1204"/><use href="#x" x="1341" y="1140"/><use href="#x" x="1341" y="1189"/><use href="#x" x="1342" y="1219"/><use href="#x" x="1342" y="1287"/><use href="#x" x="1343" y="1167"/><use href="#x" x="1344" y="1252"/><use href="#x" x="1344" y="1161"/><use href="#x" x="1345" y="1308"/><use href="#x" x="1346" y="1125"/><use href="#x" x="1346" y="1108"/><use href="#x" x="1347" y="1140"/><use href="#x" x="1347" y="1284"/><use href="#x" x="1348" y="1271"/><use href="#x" x="1349" y="1214"/><use href="#x" x="1349" y="1235"/><use href="#x" x="1350" y="1276"/><use href="#x" x="1351" y="1192"/><use href="#x" x="1351" y="1235"/><use href="#x" x="1352" y="1235"/><use href="#x" x="1352" y="1190"/><use href="#x" x="1353" y="1222"/><use href="#x" x="1354" y="1238"/><use href="#x" x="1355" y="1214"/><use href="#x" x="1355" y="1237"/><use href="#x" x="1356" y="1247"/><use href="#x" x="1357" y="1173"/><use href="#x" x="1357" y="1205"/><use href="#x" x="1358" y="1087"/><use href="#x" x="1358" y="1024"/><use href="#x" x="1359" y="1238"/><use href="#x" x="1360" y="1213"/><use href="#x" x="1360" y="1095"/><use href="#x" x="1361" y="1141"/><use href="#x" x="1362" y="1146"/><use href="#x" x="1363" y="1235"/><use href="#x" x="1364" y="1194"/><use href="#x" x="1364" y="1249"/><use href="#x" x="1365" y="1155"/><use href="#x" x="1366" y="1091"/><use href="#x" x="1367" y="1129"/><use href="#x" x="1367" y="1293"/><use href="#x" x="1368" y="1180"/><use href="#x" x="1369" y="1146"/><use href="#x" x="1369" y="1140"/><use href="#x" x="1370" y="1100"/><use href="#x" x="1371" y="1112"/><use href="#x" x="1371" y="1269"/><use href="#x" x="1372" y="1248"/><use href="#x" x="1373" y="1209"/><use href="#x" x="1373" y="1126"/><use href="#x" x="1374" y="1251"/><use href="#x" x="1375" y="1180"/><use href="#x" x="1376" y="1139"/><use href="#x" x="1377" y="1129"/><use href="#x" x="1377" y="1120"/><use href="#x" x="1378" y="1117"/><use href="#x" x="1378" y="1187"/><use href="#x" x="1379" y="1132"/><use href="#x" x="1379" y="1262"/><use href="#x" x="1380" y="1296"/><use href="#x" x="1381" y="1337"/><use href="#x" x="1382" y="1173"/><use href="#x" x="1382" y="1178"/><use href="#x" x="438" y="990"/><use href="#x" x="434" y="1020"/><use href="#x" x="626" y="1016"/><use href="#x" x="797" y="1019"/></g>
<text x="199" y="1380.6" font-size="25.1" text-anchor="start" font-weight="bold" fill="#000">Max Smoothing Residual: -2.411_Vdk1.D5&#160; Sigma= 0.908ns15/34_03/05/26Mn_____73.085</text>
<rect x="162.5" y="954.5" width="1260" height="449" fill="none" stroke="#000" stroke-width="1" shape-rendering="crispEdges"/>
<line x1="162" y1="947" x2="162" y2="954.5" stroke="#000" stroke-width="2" shape-rendering="crispEdges"/>
<line x1="162" y1="1403.5" x2="162" y2="1410" stroke="#000" stroke-width="2" shape-rendering="crispEdges"/>
<line x1="199" y1="947" x2="199" y2="954.5" stroke="#000" stroke-width="2" shape-rendering="crispEdges"/>
<line x1="199" y1="1403.5" x2="199" y2="1410" stroke="#000" stroke-width="2" shape-rendering="crispEdges"/>
<line x1="236" y1="947" x2="236" y2="954.5" stroke="#000" stroke-width="2" shape-rendering="crispEdges"/>
<line x1="236" y1="1403.5" x2="236" y2="1410" stroke="#000" stroke-width="2" shape-rendering="crispEdges"/>
<line x1="273" y1="940" x2="273" y2="954.5" stroke="#000" stroke-width="2" shape-rendering="crispEdges"/>
<line x1="273" y1="1403.5" x2="273" y2="1417" stroke="#000" stroke-width="2" shape-rendering="crispEdges"/>
<text x="273" y="1450" font-size="30" text-anchor="middle" fill="#000">61070</text>
<line x1="310" y1="947" x2="310" y2="954.5" stroke="#000" stroke-width="2" shape-rendering="crispEdges"/>
<line x1="310" y1="1403.5" x2="310" y2="1410" stroke="#000" stroke-width="2" shape-rendering="crispEdges"/>
<line x1="347" y1="947" x2="347" y2="954.5" stroke="#000" stroke-width="2" shape-rendering="crispEdges"/>
<line x1="347" y1="1403.5" x2="347" y2="1410" stroke="#000" stroke-width="2" shape-rendering="crispEdges"/>
<line x1="384" y1="947" x2="384" y2="954.5" stroke="#000" stroke-width="2" shape-rendering="crispEdges"/>
<line x1="384" y1="1403.5" x2="384" y2="1410" stroke="#000" stroke-width="2" shape-rendering="crispEdges"/>
<line x1="421" y1="947" x2="421" y2="954.5" stroke="#000" stroke-width="2" shape-rendering="crispEdges"/>
<line x1="421" y1="1403.5" x2="421" y2="1410" stroke="#000" stroke-width="2" shape-rendering="crispEdges"/>
<line x1="458" y1="940" x2="458" y2="954.5" stroke="#000" stroke-width="2" shape-rendering="crispEdges"/>
<line x1="458" y1="1403.5" x2="458" y2="1417" stroke="#000" stroke-width="2" shape-rendering="crispEdges"/>
<text x="458" y="1450" font-size="30" text-anchor="middle" fill="#000">61075</text>
<line x1="496" y1="947" x2="496" y2="954.5" stroke="#000" stroke-width="2" shape-rendering="crispEdges"/>
<line x1="496" y1="1403.5" x2="496" y2="1410" stroke="#000" stroke-width="2" shape-rendering="crispEdges"/>
<line x1="533" y1="947" x2="533" y2="954.5" stroke="#000" stroke-width="2" shape-rendering="crispEdges"/>
<line x1="533" y1="1403.5" x2="533" y2="1410" stroke="#000" stroke-width="2" shape-rendering="crispEdges"/>
<line x1="570" y1="947" x2="570" y2="954.5" stroke="#000" stroke-width="2" shape-rendering="crispEdges"/>
<line x1="570" y1="1403.5" x2="570" y2="1410" stroke="#000" stroke-width="2" shape-rendering="crispEdges"/>
<line x1="607" y1="947" x2="607" y2="954.5" stroke="#000" stroke-width="2" shape-rendering="crispEdges"/>
<line x1="607" y1="1403.5" x2="607" y2="1410" stroke="#000" stroke-width="2" shape-rendering="crispEdges"/>
<line x1="644" y1="940" x2="644" y2="954.5" stroke="#000" stroke-width="2" shape-rendering="crispEdges"/>
<line x1="644" y1="1403.5" x2="644" y2="1417" stroke="#000" stroke-width="2" shape-rendering="crispEdges"/>
<text x="644" y="1450" font-size="30" text-anchor="middle" fill="#000">61080</text>
<line x1="681" y1="947" x2="681" y2="954.5" stroke="#000" stroke-width="2" shape-rendering="crispEdges"/>
<line x1="681" y1="1403.5" x2="681" y2="1410" stroke="#000" stroke-width="2" shape-rendering="crispEdges"/>
<line x1="718" y1="947" x2="718" y2="954.5" stroke="#000" stroke-width="2" shape-rendering="crispEdges"/>
<line x1="718" y1="1403.5" x2="718" y2="1410" stroke="#000" stroke-width="2" shape-rendering="crispEdges"/>
<line x1="755" y1="947" x2="755" y2="954.5" stroke="#000" stroke-width="2" shape-rendering="crispEdges"/>
<line x1="755" y1="1403.5" x2="755" y2="1410" stroke="#000" stroke-width="2" shape-rendering="crispEdges"/>
<line x1="792" y1="947" x2="792" y2="954.5" stroke="#000" stroke-width="2" shape-rendering="crispEdges"/>
<line x1="792" y1="1403.5" x2="792" y2="1410" stroke="#000" stroke-width="2" shape-rendering="crispEdges"/>
<line x1="829" y1="940" x2="829" y2="954.5" stroke="#000" stroke-width="2" shape-rendering="crispEdges"/>
<line x1="829" y1="1403.5" x2="829" y2="1417" stroke="#000" stroke-width="2" shape-rendering="crispEdges"/>
<text x="829" y="1450" font-size="30" text-anchor="middle" fill="#000">61085</text>
<line x1="866" y1="947" x2="866" y2="954.5" stroke="#000" stroke-width="2" shape-rendering="crispEdges"/>
<line x1="866" y1="1403.5" x2="866" y2="1410" stroke="#000" stroke-width="2" shape-rendering="crispEdges"/>
<line x1="903" y1="947" x2="903" y2="954.5" stroke="#000" stroke-width="2" shape-rendering="crispEdges"/>
<line x1="903" y1="1403.5" x2="903" y2="1410" stroke="#000" stroke-width="2" shape-rendering="crispEdges"/>
<line x1="940" y1="947" x2="940" y2="954.5" stroke="#000" stroke-width="2" shape-rendering="crispEdges"/>
<line x1="940" y1="1403.5" x2="940" y2="1410" stroke="#000" stroke-width="2" shape-rendering="crispEdges"/>
<line x1="977" y1="947" x2="977" y2="954.5" stroke="#000" stroke-width="2" shape-rendering="crispEdges"/>
<line x1="977" y1="1403.5" x2="977" y2="1410" stroke="#000" stroke-width="2" shape-rendering="crispEdges"/>
<line x1="1014" y1="940" x2="1014" y2="954.5" stroke="#000" stroke-width="2" shape-rendering="crispEdges"/>
<line x1="1014" y1="1403.5" x2="1014" y2="1417" stroke="#000" stroke-width="2" shape-rendering="crispEdges"/>
<text x="1014" y="1450" font-size="30" text-anchor="middle" fill="#000">61090</text>
<line x1="1051" y1="947" x2="1051" y2="954.5" stroke="#000" stroke-width="2" shape-rendering="crispEdges"/>
<line x1="1051" y1="1403.5" x2="1051" y2="1410" stroke="#000" stroke-width="2" shape-rendering="crispEdges"/>
<line x1="1088" y1="947" x2="1088" y2="954.5" stroke="#000" stroke-width="2" shape-rendering="crispEdges"/>
<line x1="1088" y1="1403.5" x2="1088" y2="1410" stroke="#000" stroke-width="2" shape-rendering="crispEdges"/>
<line x1="1126" y1="947" x2="1126" y2="954.5" stroke="#000" stroke-width="2" shape-rendering="crispEdges"/>
<line x1="1126" y1="1403.5" x2="1126" y2="1410" stroke="#000" stroke-width="2" shape-rendering="crispEdges"/>
<line x1="1163" y1="947" x2="1163" y2="954.5" stroke="#000" stroke-width="2" shape-rendering="crispEdges"/>
<line x1="1163" y1="1403.5" x2="1163" y2="1410" stroke="#000" stroke-width="2" shape-rendering="crispEdges"/>
<line x1="1200" y1="940" x2="1200" y2="954.5" stroke="#000" stroke-width="2" shape-rendering="crispEdges"/>
<line x1="1200" y1="1403.5" x2="1200" y2="1417" stroke="#000" stroke-width="2" shape-rendering="crispEdges"/>
<text x="1200" y="1450" font-size="30" text-anchor="middle" fill="#000">61095</text>
<line x1="1237" y1="947" x2="1237" y2="954.5" stroke="#000" stroke-width="2" shape-rendering="crispEdges"/>
<line x1="1237" y1="1403.5" x2="1237" y2="1410" stroke="#000" stroke-width="2" shape-rendering="crispEdges"/>
<line x1="1274" y1="947" x2="1274" y2="954.5" stroke="#000" stroke-width="2" shape-rendering="crispEdges"/>
<line x1="1274" y1="1403.5" x2="1274" y2="1410" stroke="#000" stroke-width="2" shape-rendering="crispEdges"/>
<line x1="1311" y1="947" x2="1311" y2="954.5" stroke="#000" stroke-width="2" shape-rendering="crispEdges"/>
<line x1="1311" y1="1403.5" x2="1311" y2="1410" stroke="#000" stroke-width="2" shape-rendering="crispEdges"/>
<line x1="1348" y1="947" x2="1348" y2="954.5" stroke="#000" stroke-width="2" shape-rendering="crispEdges"/>
<line x1="1348" y1="1403.5" x2="1348" y2="1410" stroke="#000" stroke-width="2" shape-rendering="crispEdges"/>
<line x1="1385" y1="940" x2="1385" y2="954.5" stroke="#000" stroke-width="2" shape-rendering="crispEdges"/>
<line x1="1385" y1="1403.5" x2="1385" y2="1417" stroke="#000" stroke-width="2" shape-rendering="crispEdges"/>
<text x="1385" y="1450" font-size="30" text-anchor="middle" fill="#000">61100</text>
<line x1="1422" y1="947" x2="1422" y2="954.5" stroke="#000" stroke-width="2" shape-rendering="crispEdges"/>
<line x1="1422" y1="1403.5" x2="1422" y2="1410" stroke="#000" stroke-width="2" shape-rendering="crispEdges"/>
<line x1="148" y1="1387" x2="162.5" y2="1387" stroke="#000" stroke-width="2" shape-rendering="crispEdges"/>
<line x1="1422.5" y1="1387" x2="1436" y2="1387" stroke="#000" stroke-width="2" shape-rendering="crispEdges"/>
<text x="137" y="1398" font-size="30" text-anchor="end" fill="#000">−2.5</text>
<line x1="148" y1="1347" x2="162.5" y2="1347" stroke="#000" stroke-width="2" shape-rendering="crispEdges"/>
<line x1="1422.5" y1="1347" x2="1436" y2="1347" stroke="#000" stroke-width="2" shape-rendering="crispEdges"/>
<text x="137" y="1358" font-size="30" text-anchor="end" fill="#000">−2.0</text>
<line x1="148" y1="1307" x2="162.5" y2="1307" stroke="#000" stroke-width="2" shape-rendering="crispEdges"/>
<line x1="1422.5" y1="1307" x2="1436" y2="1307" stroke="#000" stroke-width="2" shape-rendering="crispEdges"/>
<text x="137" y="1318" font-size="30" text-anchor="end" fill="#000">−1.5</text>
<line x1="148" y1="1267" x2="162.5" y2="1267" stroke="#000" stroke-width="2" shape-rendering="crispEdges"/>
<line x1="1422.5" y1="1267" x2="1436" y2="1267" stroke="#000" stroke-width="2" shape-rendering="crispEdges"/>
<text x="137" y="1278" font-size="30" text-anchor="end" fill="#000">−1.0</text>
<line x1="148" y1="1227" x2="162.5" y2="1227" stroke="#000" stroke-width="2" shape-rendering="crispEdges"/>
<line x1="1422.5" y1="1227" x2="1436" y2="1227" stroke="#000" stroke-width="2" shape-rendering="crispEdges"/>
<text x="137" y="1238" font-size="30" text-anchor="end" fill="#000">−0.5</text>
<line x1="148" y1="1186" x2="162.5" y2="1186" stroke="#000" stroke-width="2" shape-rendering="crispEdges"/>
<line x1="1422.5" y1="1186" x2="1436" y2="1186" stroke="#000" stroke-width="2" shape-rendering="crispEdges"/>
<text x="137" y="1197" font-size="30" text-anchor="end" fill="#000">0.0</text>
<line x1="148" y1="1146" x2="162.5" y2="1146" stroke="#000" stroke-width="2" shape-rendering="crispEdges"/>
<line x1="1422.5" y1="1146" x2="1436" y2="1146" stroke="#000" stroke-width="2" shape-rendering="crispEdges"/>
<text x="137" y="1157" font-size="30" text-anchor="end" fill="#000">0.5</text>
<line x1="148" y1="1106" x2="162.5" y2="1106" stroke="#000" stroke-width="2" shape-rendering="crispEdges"/>
<line x1="1422.5" y1="1106" x2="1436" y2="1106" stroke="#000" stroke-width="2" shape-rendering="crispEdges"/>
<text x="137" y="1117" font-size="30" text-anchor="end" fill="#000">1.0</text>
<line x1="148" y1="1066" x2="162.5" y2="1066" stroke="#000" stroke-width="2" shape-rendering="crispEdges"/>
<line x1="1422.5" y1="1066" x2="1436" y2="1066" stroke="#000" stroke-width="2" shape-rendering="crispEdges"/>
<text x="137" y="1077" font-size="30" text-anchor="end" fill="#000">1.5</text>
<line x1="148" y1="1026" x2="162.5" y2="1026" stroke="#000" stroke-width="2" shape-rendering="crispEdges"/>
<line x1="1422.5" y1="1026" x2="1436" y2="1026" stroke="#000" stroke-width="2" shape-rendering="crispEdges"/>
<text x="137" y="1037" font-size="30" text-anchor="end" fill="#000">2.0</text>
<line x1="148" y1="985" x2="162.5" y2="985" stroke="#000" stroke-width="2" shape-rendering="crispEdges"/>
<line x1="1422.5" y1="985" x2="1436" y2="985" stroke="#000" stroke-width="2" shape-rendering="crispEdges"/>
<text x="137" y="996" font-size="30" text-anchor="end" fill="#000">2.5</text>
<text x="68" y="1179" font-size="30" text-anchor="middle" font-weight="bold" fill="#000" transform="rotate(-90 68 1179)">residuals (ns)</text>
<text x="792.5" y="1480.8" font-size="30" text-anchor="middle" font-weight="bold" fill="#000">Modified Julian Date</text>
<clipPath id="c169"><rect x="169.5" y="1511.5" width="540" height="450"/></clipPath>
<g clip-path="url(#c169)">
<circle cx="215.4" cy="1961.5" r="4.2" fill="#000" shape-rendering="crispEdges"/>
<circle cx="269.6" cy="1961.5" r="4.2" fill="#000" shape-rendering="crispEdges"/>
<circle cx="355.5" cy="1961.5" r="4.2" fill="#000" shape-rendering="crispEdges"/>
<circle cx="409.7" cy="1961.5" r="4.2" fill="#000" shape-rendering="crispEdges"/>
<circle cx="463.9" cy="1961.5" r="4.2" fill="#000" shape-rendering="crispEdges"/>
<circle cx="518.1" cy="1961.5" r="4.2" fill="#000" shape-rendering="crispEdges"/>
<circle cx="604" cy="1961.5" r="4.2" fill="#000" shape-rendering="crispEdges"/>
<circle cx="670.2" cy="1961.5" r="4.2" fill="#000" shape-rendering="crispEdges"/>
</g>
<text x="215.4" y="1946" font-size="20" text-anchor="middle" font-weight="bold" fill="#f00">h/2</text>
<text x="269.6" y="1946" font-size="20" text-anchor="middle" font-weight="bold" fill="#f00">h</text>
<text x="355.5" y="1946" font-size="20" text-anchor="middle" font-weight="bold" fill="#f00">d/8</text>
<text x="409.7" y="1946" font-size="20" text-anchor="middle" font-weight="bold" fill="#f00">d/4</text>
<text x="463.9" y="1946" font-size="20" text-anchor="middle" font-weight="bold" fill="#f00">d/2</text>
<text x="518.1" y="1946" font-size="20" text-anchor="middle" font-weight="bold" fill="#f00">day</text>
<text x="604" y="1946" font-size="20" text-anchor="middle" font-weight="bold" fill="#f00">ddd</text>
<text x="670.2" y="1946" font-size="20" text-anchor="middle" font-weight="bold" fill="#f00">wk</text>
<circle cx="201.4" cy="1594" r="6.2" fill="#000" shape-rendering="crispEdges"/>
<text x="201.4" y="1578.8" font-size="20" text-anchor="middle" font-weight="bold" fill="#f00">884.0</text>
<circle cx="255.5" cy="1657.4" r="6.2" fill="#000" shape-rendering="crispEdges"/>
<text x="255.5" y="1642.2" font-size="20" text-anchor="middle" font-weight="bold" fill="#f00">334.4</text>
<circle cx="309.7" cy="1714.6" r="6.2" fill="#000" shape-rendering="crispEdges"/>
<text x="309.7" y="1699.4" font-size="20" text-anchor="middle" font-weight="bold" fill="#f00">138.8</text>
<circle cx="363.9" cy="1757.2" r="6.2" fill="#000" shape-rendering="crispEdges"/>
<text x="363.9" y="1742" font-size="20" text-anchor="middle" font-weight="bold" fill="#f00">72.2</text>
<circle cx="418.1" cy="1786.7" r="6.2" fill="#000" shape-rendering="crispEdges"/>
<text x="418.1" y="1771.5" font-size="20" text-anchor="middle" font-weight="bold" fill="#f00">45.9</text>
<circle cx="472.3" cy="1809.6" r="6.2" fill="#000" shape-rendering="crispEdges"/>
<text x="472.3" y="1794.4" font-size="20" text-anchor="middle" font-weight="bold" fill="#f00">32.3</text>
<circle cx="526.5" cy="1830.6" r="6.2" fill="#000" shape-rendering="crispEdges"/>
<text x="526.5" y="1815.4" font-size="20" text-anchor="middle" font-weight="bold" fill="#f00">23.4</text>
<circle cx="580.7" cy="1878" r="6.2" fill="#000" shape-rendering="crispEdges"/>
<text x="580.7" y="1862.8" font-size="20" text-anchor="middle" font-weight="bold" fill="#f00">11.3</text>
<circle cx="634.8" cy="1879.2" r="6.2" fill="#000" shape-rendering="crispEdges"/>
<text x="634.8" y="1864" font-size="20" text-anchor="middle" font-weight="bold" fill="#f00">11.1</text>
<rect x="169.5" y="1511.5" width="540" height="450" fill="none" stroke="#000" stroke-width="1" shape-rendering="crispEdges"/>
<line x1="169" y1="1497" x2="169" y2="1511.5" stroke="#000" stroke-width="2" shape-rendering="crispEdges"/>
<line x1="169" y1="1961.5" x2="169" y2="1975" stroke="#000" stroke-width="2" shape-rendering="crispEdges"/>
<text x="169" y="2008.5" font-size="30" text-anchor="middle" fill="#000">3</text>
<line x1="259" y1="1504" x2="259" y2="1511.5" stroke="#000" stroke-width="2" shape-rendering="crispEdges"/>
<line x1="259" y1="1961.5" x2="259" y2="1968" stroke="#000" stroke-width="2" shape-rendering="crispEdges"/>
<line x1="349" y1="1497" x2="349" y2="1511.5" stroke="#000" stroke-width="2" shape-rendering="crispEdges"/>
<line x1="349" y1="1961.5" x2="349" y2="1975" stroke="#000" stroke-width="2" shape-rendering="crispEdges"/>
<text x="349" y="2008.5" font-size="30" text-anchor="middle" fill="#000">4</text>
<line x1="439" y1="1504" x2="439" y2="1511.5" stroke="#000" stroke-width="2" shape-rendering="crispEdges"/>
<line x1="439" y1="1961.5" x2="439" y2="1968" stroke="#000" stroke-width="2" shape-rendering="crispEdges"/>
<line x1="529" y1="1497" x2="529" y2="1511.5" stroke="#000" stroke-width="2" shape-rendering="crispEdges"/>
<line x1="529" y1="1961.5" x2="529" y2="1975" stroke="#000" stroke-width="2" shape-rendering="crispEdges"/>
<text x="529" y="2008.5" font-size="30" text-anchor="middle" fill="#000">5</text>
<line x1="619" y1="1504" x2="619" y2="1511.5" stroke="#000" stroke-width="2" shape-rendering="crispEdges"/>
<line x1="619" y1="1961.5" x2="619" y2="1968" stroke="#000" stroke-width="2" shape-rendering="crispEdges"/>
<line x1="709" y1="1497" x2="709" y2="1511.5" stroke="#000" stroke-width="2" shape-rendering="crispEdges"/>
<line x1="709" y1="1961.5" x2="709" y2="1975" stroke="#000" stroke-width="2" shape-rendering="crispEdges"/>
<text x="709" y="2008.5" font-size="30" text-anchor="middle" fill="#000">6</text>
<line x1="162" y1="1510" x2="169.5" y2="1510" stroke="#000" stroke-width="2" shape-rendering="crispEdges"/>
<line x1="709.5" y1="1510" x2="716" y2="1510" stroke="#000" stroke-width="2" shape-rendering="crispEdges"/>
<line x1="155" y1="1586" x2="169.5" y2="1586" stroke="#000" stroke-width="2" shape-rendering="crispEdges"/>
<line x1="709.5" y1="1586" x2="723" y2="1586" stroke="#000" stroke-width="2" shape-rendering="crispEdges"/>
<text x="144.5" y="1597" font-size="30" text-anchor="end" fill="#000">−12</text>
<line x1="162" y1="1660" x2="169.5" y2="1660" stroke="#000" stroke-width="2" shape-rendering="crispEdges"/>
<line x1="709.5" y1="1660" x2="716" y2="1660" stroke="#000" stroke-width="2" shape-rendering="crispEdges"/>
<line x1="155" y1="1736" x2="169.5" y2="1736" stroke="#000" stroke-width="2" shape-rendering="crispEdges"/>
<line x1="709.5" y1="1736" x2="723" y2="1736" stroke="#000" stroke-width="2" shape-rendering="crispEdges"/>
<text x="144.5" y="1747" font-size="30" text-anchor="end" fill="#000">−13</text>
<line x1="162" y1="1810" x2="169.5" y2="1810" stroke="#000" stroke-width="2" shape-rendering="crispEdges"/>
<line x1="709.5" y1="1810" x2="716" y2="1810" stroke="#000" stroke-width="2" shape-rendering="crispEdges"/>
<line x1="155" y1="1886" x2="169.5" y2="1886" stroke="#000" stroke-width="2" shape-rendering="crispEdges"/>
<line x1="709.5" y1="1886" x2="723" y2="1886" stroke="#000" stroke-width="2" shape-rendering="crispEdges"/>
<text x="144.5" y="1897" font-size="30" text-anchor="end" fill="#000">−14</text>
<line x1="162" y1="1960" x2="169.5" y2="1960" stroke="#000" stroke-width="2" shape-rendering="crispEdges"/>
<line x1="709.5" y1="1960" x2="716" y2="1960" stroke="#000" stroke-width="2" shape-rendering="crispEdges"/>
<text x="83" y="1736.5" font-size="30" font-weight="bold" text-anchor="middle" transform="rotate(-90 83 1736.5)">Modified Allan Deviation (10<tspan font-size="21" dy="-13.5">-15</tspan><tspan dy="13.5">)</tspan></text>
<text x="439.5" y="2039" font-size="30" font-weight="bold" text-anchor="middle">Averaging time, log(<tspan font-family='&quot;Liberation Serif&quot;, &quot;DejaVu Serif&quot;, serif' font-weight="normal" font-style="italic" font-size="33">τ</tspan>) (s)</text>
<text x="214" y="1554" font-size="17.5" font-weight="bold"><tspan font-family='&quot;Liberation Serif&quot;, &quot;DejaVu Serif&quot;, serif' font-size="20" font-weight="normal" font-style="italic">τ</tspan> = 1503s</text>
<clipPath id="c853"><rect x="853.5" y="1511.5" width="540" height="450"/></clipPath>
<g clip-path="url(#c853)">
<circle cx="937.9" cy="1959.7" r="6.2" fill="#000" shape-rendering="crispEdges"/>
<circle cx="987.8" cy="1959.7" r="6.2" fill="#000" shape-rendering="crispEdges"/>
<circle cx="1067" cy="1959.7" r="6.2" fill="#000" shape-rendering="crispEdges"/>
<circle cx="1117" cy="1959.7" r="6.2" fill="#000" shape-rendering="crispEdges"/>
<circle cx="1167" cy="1959.7" r="6.2" fill="#000" shape-rendering="crispEdges"/>
<circle cx="1217" cy="1959.7" r="6.2" fill="#000" shape-rendering="crispEdges"/>
<circle cx="1296.2" cy="1959.7" r="6.2" fill="#000" shape-rendering="crispEdges"/>
<circle cx="1357.2" cy="1959.7" r="6.2" fill="#000" shape-rendering="crispEdges"/>
</g>
<text x="937.9" y="1943" font-size="20" text-anchor="middle" font-weight="bold" fill="#f00">h/2</text>
<text x="987.8" y="1943" font-size="20" text-anchor="middle" font-weight="bold" fill="#f00">h</text>
<text x="1067" y="1943" font-size="20" text-anchor="middle" font-weight="bold" fill="#f00">d/8</text>
<text x="1117" y="1943" font-size="20" text-anchor="middle" font-weight="bold" fill="#f00">d/4</text>
<text x="1167" y="1943" font-size="20" text-anchor="middle" font-weight="bold" fill="#f00">d/2</text>
<text x="1217" y="1943" font-size="20" text-anchor="middle" font-weight="bold" fill="#f00">day</text>
<text x="1296.2" y="1943" font-size="20" text-anchor="middle" font-weight="bold" fill="#f00">ddd</text>
<text x="1357.2" y="1943" font-size="20" text-anchor="middle" font-weight="bold" fill="#f00">wk</text>
<circle cx="924.9" cy="1801.9" r="6.2" fill="#000" shape-rendering="crispEdges"/>
<text x="924.9" y="1783.9" font-size="17.5" text-anchor="middle" font-weight="bold" fill="#f00">7.7</text>
<circle cx="974.8" cy="1824.1" r="6.2" fill="#000" shape-rendering="crispEdges"/>
<text x="974.8" y="1806.1" font-size="17.5" text-anchor="middle" font-weight="bold" fill="#f00">5.8</text>
<circle cx="1024.8" cy="1838.9" r="6.2" fill="#000" shape-rendering="crispEdges"/>
<text x="1024.8" y="1820.9" font-size="17.5" text-anchor="middle" font-weight="bold" fill="#f00">4.8</text>
<circle cx="1074.8" cy="1835.7" r="6.2" fill="#000" shape-rendering="crispEdges"/>
<text x="1074.8" y="1817.7" font-size="17.5" text-anchor="middle" font-weight="bold" fill="#f00">5.0</text>
<circle cx="1124.8" cy="1816.4" r="6.2" fill="#000" shape-rendering="crispEdges"/>
<text x="1124.8" y="1798.4" font-size="17.5" text-anchor="middle" font-weight="bold" fill="#f00">6.4</text>
<circle cx="1174.7" cy="1789.7" r="6.2" fill="#000" shape-rendering="crispEdges"/>
<text x="1174.7" y="1771.7" font-size="17.5" text-anchor="middle" font-weight="bold" fill="#f00">9.0</text>
<circle cx="1224.7" cy="1761" r="6.2" fill="#000" shape-rendering="crispEdges"/>
<text x="1224.7" y="1743" font-size="17.5" text-anchor="middle" font-weight="bold" fill="#f00">13.0</text>
<circle cx="1274.7" cy="1763.4" r="6.2" fill="#000" shape-rendering="crispEdges"/>
<text x="1274.7" y="1745.4" font-size="17.5" text-anchor="middle" font-weight="bold" fill="#f00">12.6</text>
<circle cx="1324.6" cy="1711.1" r="6.2" fill="#000" shape-rendering="crispEdges"/>
<text x="1324.6" y="1693.1" font-size="17.5" text-anchor="middle" font-weight="bold" fill="#f00">24.6</text>
<rect x="853.5" y="1511.5" width="540" height="450" fill="none" stroke="#000" stroke-width="1" shape-rendering="crispEdges"/>
<line x1="895" y1="1497" x2="895" y2="1511.5" stroke="#000" stroke-width="2" shape-rendering="crispEdges"/>
<line x1="895" y1="1961.5" x2="895" y2="1975" stroke="#000" stroke-width="2" shape-rendering="crispEdges"/>
<text x="895" y="2008.5" font-size="30" text-anchor="middle" fill="#000">3</text>
<line x1="978" y1="1504" x2="978" y2="1511.5" stroke="#000" stroke-width="2" shape-rendering="crispEdges"/>
<line x1="978" y1="1961.5" x2="978" y2="1968" stroke="#000" stroke-width="2" shape-rendering="crispEdges"/>
<line x1="1061" y1="1497" x2="1061" y2="1511.5" stroke="#000" stroke-width="2" shape-rendering="crispEdges"/>
<line x1="1061" y1="1961.5" x2="1061" y2="1975" stroke="#000" stroke-width="2" shape-rendering="crispEdges"/>
<text x="1061" y="2008.5" font-size="30" text-anchor="middle" fill="#000">4</text>
<line x1="1144" y1="1504" x2="1144" y2="1511.5" stroke="#000" stroke-width="2" shape-rendering="crispEdges"/>
<line x1="1144" y1="1961.5" x2="1144" y2="1968" stroke="#000" stroke-width="2" shape-rendering="crispEdges"/>
<line x1="1227" y1="1497" x2="1227" y2="1511.5" stroke="#000" stroke-width="2" shape-rendering="crispEdges"/>
<line x1="1227" y1="1961.5" x2="1227" y2="1975" stroke="#000" stroke-width="2" shape-rendering="crispEdges"/>
<text x="1227" y="2008.5" font-size="30" text-anchor="middle" fill="#000">5</text>
<line x1="1310" y1="1504" x2="1310" y2="1511.5" stroke="#000" stroke-width="2" shape-rendering="crispEdges"/>
<line x1="1310" y1="1961.5" x2="1310" y2="1968" stroke="#000" stroke-width="2" shape-rendering="crispEdges"/>
<line x1="1393" y1="1497" x2="1393" y2="1511.5" stroke="#000" stroke-width="2" shape-rendering="crispEdges"/>
<line x1="1393" y1="1961.5" x2="1393" y2="1975" stroke="#000" stroke-width="2" shape-rendering="crispEdges"/>
<text x="1393" y="2008.5" font-size="30" text-anchor="middle" fill="#000">6</text>
<line x1="846" y1="1511" x2="853.5" y2="1511" stroke="#000" stroke-width="2" shape-rendering="crispEdges"/>
<line x1="1393.5" y1="1511" x2="1400" y2="1511" stroke="#000" stroke-width="2" shape-rendering="crispEdges"/>
<line x1="839" y1="1601" x2="853.5" y2="1601" stroke="#000" stroke-width="2" shape-rendering="crispEdges"/>
<line x1="1393.5" y1="1601" x2="1407" y2="1601" stroke="#000" stroke-width="2" shape-rendering="crispEdges"/>
<text x="828" y="1612" font-size="30" text-anchor="end" fill="#000" letter-spacing="-0.5">−8</text>
<line x1="846" y1="1691" x2="853.5" y2="1691" stroke="#000" stroke-width="2" shape-rendering="crispEdges"/>
<line x1="1393.5" y1="1691" x2="1400" y2="1691" stroke="#000" stroke-width="2" shape-rendering="crispEdges"/>
<line x1="839" y1="1781" x2="853.5" y2="1781" stroke="#000" stroke-width="2" shape-rendering="crispEdges"/>
<line x1="1393.5" y1="1781" x2="1407" y2="1781" stroke="#000" stroke-width="2" shape-rendering="crispEdges"/>
<text x="828" y="1792" font-size="30" text-anchor="end" fill="#000" letter-spacing="-0.5">−9</text>
<line x1="846" y1="1871" x2="853.5" y2="1871" stroke="#000" stroke-width="2" shape-rendering="crispEdges"/>
<line x1="1393.5" y1="1871" x2="1400" y2="1871" stroke="#000" stroke-width="2" shape-rendering="crispEdges"/>
<line x1="839" y1="1961" x2="853.5" y2="1961" stroke="#000" stroke-width="2" shape-rendering="crispEdges"/>
<line x1="1393.5" y1="1961" x2="1407" y2="1961" stroke="#000" stroke-width="2" shape-rendering="crispEdges"/>
<text x="828" y="1972" font-size="30" text-anchor="end" fill="#000" letter-spacing="-0.5">−10</text>
<text x="766.5" y="1736.5" font-size="30" font-weight="bold" text-anchor="middle" transform="rotate(-90 766.5 1736.5)">Time deviation (10<tspan font-size="21" dy="-13.5">-10</tspan><tspan dy="13.5"> s)</tspan></text>
<text x="1123.5" y="2039" font-size="30" font-weight="bold" text-anchor="middle">Averaging time, log(<tspan font-family='&quot;Liberation Serif&quot;, &quot;DejaVu Serif&quot;, serif' font-weight="normal" font-style="italic" font-size="33">τ</tspan>) (s)</text>
</svg></body></html>
